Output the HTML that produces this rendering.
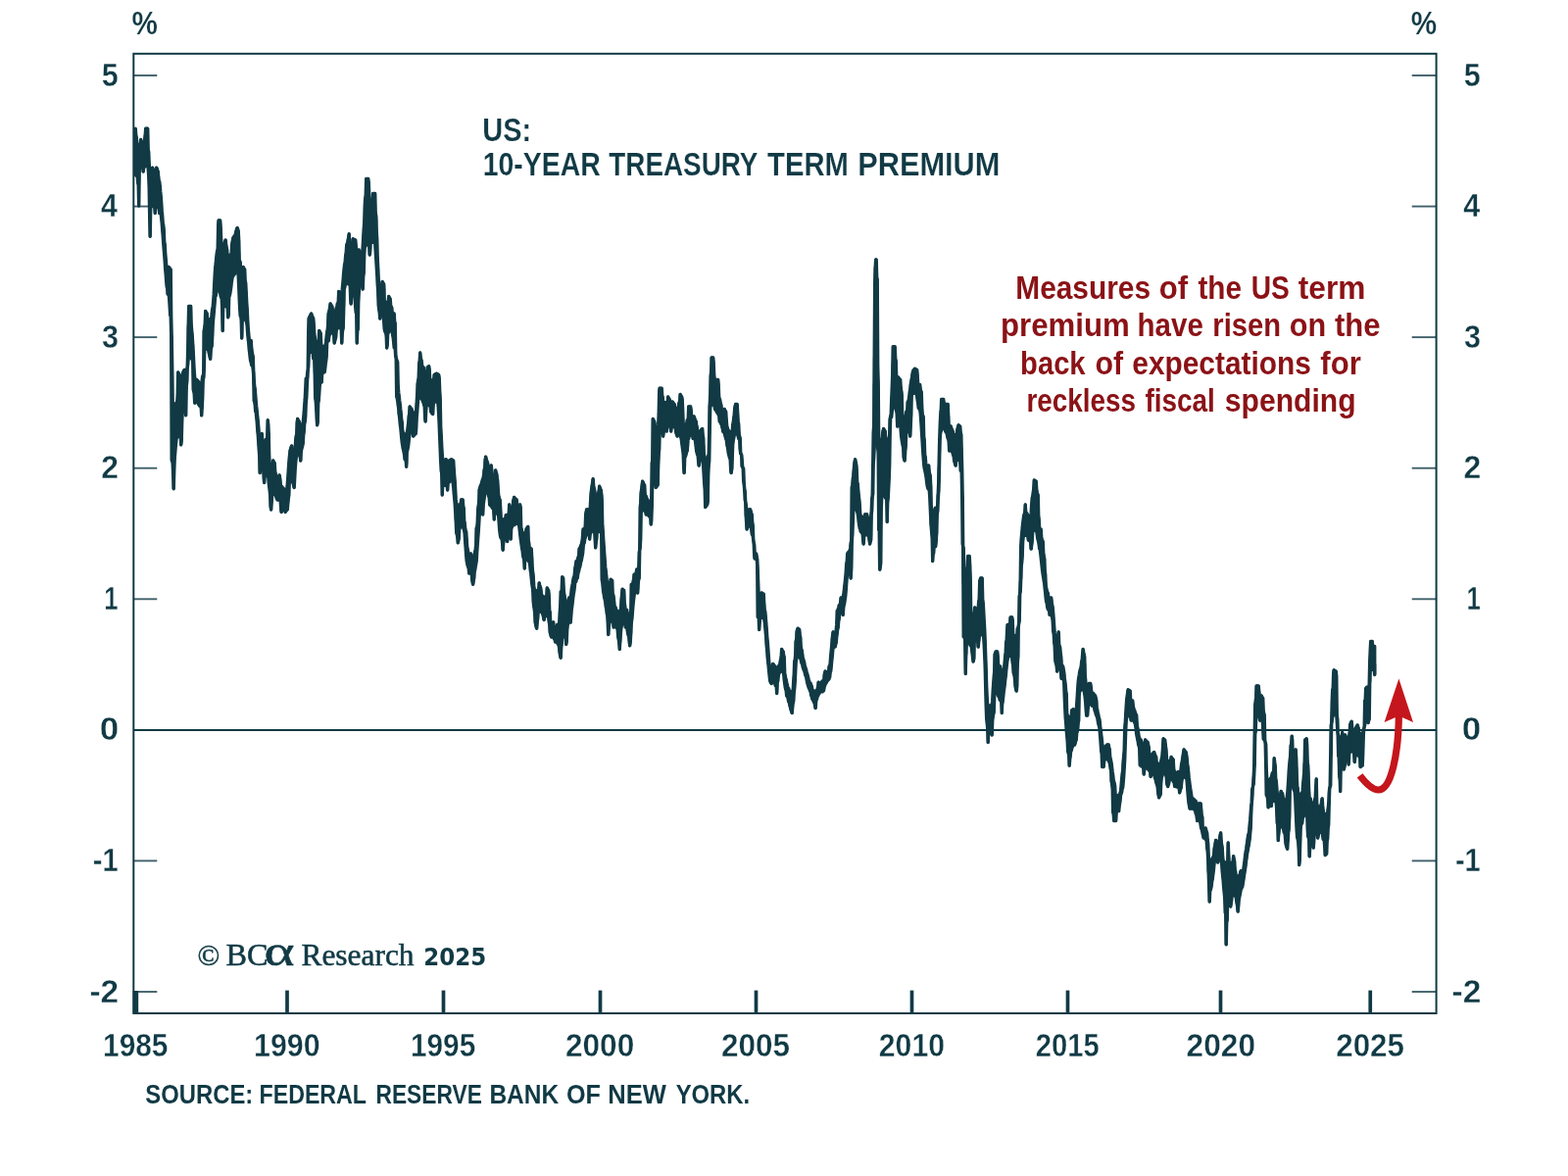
<!DOCTYPE html>
<html lang="en"><head><meta charset="utf-8"><title>US: 10-Year Treasury Term Premium</title>
<style>
html,body{margin:0;padding:0;background:#fff;}
body{width:1600px;height:1200px;overflow:hidden;}
svg{display:block;}
text{font-family:"Liberation Sans","DejaVu Sans",sans-serif;fill:#113a45;font-weight:bold;}
.ax{font-size:33.2px;stroke:#fff;stroke-width:0.35px;}
.pc{font-size:33px;stroke:#fff;stroke-width:0.2px;}
.ti{font-size:32.7px;stroke:#fff;stroke-width:0.15px;}
.an{font-size:32.3px;fill:#8b1216;}
.src{font-size:28.4px;}
.cp{font-family:"Liberation Serif","DejaVu Serif",serif;font-size:32px;font-weight:normal;stroke:#113a45;stroke-width:0.55px;}
.cpc{font-size:30px;}
.cpa{font-size:45px;}
.cpy{font-family:"DejaVu Sans","Liberation Sans",sans-serif;font-weight:bold;font-size:24.2px;stroke:none;}
</style></head>
<body>
<svg width="1600" height="1200" viewBox="0 0 1600 1200">
<rect width="1600" height="1200" fill="#ffffff"/>
<g class="frame">
<rect x="136.3" y="54.8" width="1329.3" height="979.2" fill="none" stroke="#113a45" stroke-width="2"/>
<line x1="136.3" x2="1465.6" y1="744.9" y2="744.9" stroke="#113a45" stroke-width="2"/>
<line x1="136.3" x2="160.3" y1="1012.0" y2="1012.0" stroke="#113a45" stroke-width="1.9" opacity="0.8"/>
<line x1="1440.7" x2="1465.6" y1="1012.0" y2="1012.0" stroke="#113a45" stroke-width="1.9" opacity="0.8"/>
<line x1="136.3" x2="160.3" y1="878.4" y2="878.4" stroke="#113a45" stroke-width="1.9" opacity="0.8"/>
<line x1="1440.7" x2="1465.6" y1="878.4" y2="878.4" stroke="#113a45" stroke-width="1.9" opacity="0.8"/>
<line x1="136.3" x2="160.3" y1="744.9" y2="744.9" stroke="#113a45" stroke-width="1.9" opacity="0.8"/>
<line x1="1440.7" x2="1465.6" y1="744.9" y2="744.9" stroke="#113a45" stroke-width="1.9" opacity="0.8"/>
<line x1="136.3" x2="160.3" y1="611.3" y2="611.3" stroke="#113a45" stroke-width="1.9" opacity="0.8"/>
<line x1="1440.7" x2="1465.6" y1="611.3" y2="611.3" stroke="#113a45" stroke-width="1.9" opacity="0.8"/>
<line x1="136.3" x2="160.3" y1="477.7" y2="477.7" stroke="#113a45" stroke-width="1.9" opacity="0.8"/>
<line x1="1440.7" x2="1465.6" y1="477.7" y2="477.7" stroke="#113a45" stroke-width="1.9" opacity="0.8"/>
<line x1="136.3" x2="160.3" y1="344.1" y2="344.1" stroke="#113a45" stroke-width="1.9" opacity="0.8"/>
<line x1="1440.7" x2="1465.6" y1="344.1" y2="344.1" stroke="#113a45" stroke-width="1.9" opacity="0.8"/>
<line x1="136.3" x2="160.3" y1="210.6" y2="210.6" stroke="#113a45" stroke-width="1.9" opacity="0.8"/>
<line x1="1440.7" x2="1465.6" y1="210.6" y2="210.6" stroke="#113a45" stroke-width="1.9" opacity="0.8"/>
<line x1="136.3" x2="160.3" y1="77.0" y2="77.0" stroke="#113a45" stroke-width="1.9" opacity="0.8"/>
<line x1="1440.7" x2="1465.6" y1="77.0" y2="77.0" stroke="#113a45" stroke-width="1.9" opacity="0.8"/>
<rect x="135.6" y="1011" width="5.6" height="23" fill="#113a45"/>
<line x1="293" x2="293" y1="1010.6" y2="1034" stroke="#113a45" stroke-width="3.7"/>
<line x1="452.5" x2="452.5" y1="1010.6" y2="1034" stroke="#113a45" stroke-width="3.7"/>
<line x1="612.5" x2="612.5" y1="1010.6" y2="1034" stroke="#113a45" stroke-width="3.7"/>
<line x1="771.5" x2="771.5" y1="1010.6" y2="1034" stroke="#113a45" stroke-width="3.7"/>
<line x1="930.5" x2="930.5" y1="1010.6" y2="1034" stroke="#113a45" stroke-width="3.7"/>
<line x1="1089.5" x2="1089.5" y1="1010.6" y2="1034" stroke="#113a45" stroke-width="3.7"/>
<line x1="1245.5" x2="1245.5" y1="1010.6" y2="1034" stroke="#113a45" stroke-width="3.7"/>
<line x1="1398.25" x2="1398.25" y1="1010.6" y2="1034" stroke="#113a45" stroke-width="3.7"/>
</g>
<g class="labels">
<text class="ax" y="1022.5"><tspan x="91.44" textLength="29.77" lengthAdjust="spacingAndGlyphs">-2</tspan></text>
<text class="ax" y="1022.5"><tspan x="1481.54" textLength="29.77" lengthAdjust="spacingAndGlyphs">-2</tspan></text>
<text class="ax" y="888.9"><tspan x="94.81" textLength="25.87" lengthAdjust="spacingAndGlyphs">-1</tspan></text>
<text class="ax" y="888.9"><tspan x="1484.91" textLength="25.87" lengthAdjust="spacingAndGlyphs">-1</tspan></text>
<text class="ax" y="755.4"><tspan x="101.79" textLength="19.47" lengthAdjust="spacingAndGlyphs">0</tspan></text>
<text class="ax" y="755.4"><tspan x="1491.89" textLength="19.47" lengthAdjust="spacingAndGlyphs">0</tspan></text>
<text class="ax" y="621.8"><tspan x="106.3" textLength="14.28" lengthAdjust="spacingAndGlyphs">1</tspan></text>
<text class="ax" y="621.8"><tspan x="1496.4" textLength="14.28" lengthAdjust="spacingAndGlyphs">1</tspan></text>
<text class="ax" y="488.2"><tspan x="103.36" textLength="17.77" lengthAdjust="spacingAndGlyphs">2</tspan></text>
<text class="ax" y="488.2"><tspan x="1493.46" textLength="17.77" lengthAdjust="spacingAndGlyphs">2</tspan></text>
<text class="ax" y="354.6"><tspan x="103.91" textLength="17.02" lengthAdjust="spacingAndGlyphs">3</tspan></text>
<text class="ax" y="354.6"><tspan x="1494.01" textLength="17.02" lengthAdjust="spacingAndGlyphs">3</tspan></text>
<text class="ax" y="221.1"><tspan x="103.04" textLength="16.97" lengthAdjust="spacingAndGlyphs">4</tspan></text>
<text class="ax" y="221.1"><tspan x="1493.14" textLength="16.97" lengthAdjust="spacingAndGlyphs">4</tspan></text>
<text class="ax" y="87.5"><tspan x="103.68" textLength="17.02" lengthAdjust="spacingAndGlyphs">5</tspan></text>
<text class="ax" y="87.5"><tspan x="1493.78" textLength="17.02" lengthAdjust="spacingAndGlyphs">5</tspan></text>
<text class="ax" y="1078.1"><tspan x="105.03" textLength="66.48" lengthAdjust="spacingAndGlyphs">1985</tspan></text>
<text class="ax" y="1078.1"><tspan x="259.1" textLength="67.5" lengthAdjust="spacingAndGlyphs">1990</tspan></text>
<text class="ax" y="1078.1"><tspan x="418.94" textLength="66.27" lengthAdjust="spacingAndGlyphs">1995</tspan></text>
<text class="ax" y="1078.1"><tspan x="576.97" textLength="70.28" lengthAdjust="spacingAndGlyphs">2000</tspan></text>
<text class="ax" y="1078.1"><tspan x="735.98" textLength="70.08" lengthAdjust="spacingAndGlyphs">2005</tspan></text>
<text class="ax" y="1078.1"><tspan x="896.82" textLength="67.18" lengthAdjust="spacingAndGlyphs">2010</tspan></text>
<text class="ax" y="1078.1"><tspan x="1056.85" textLength="64.94" lengthAdjust="spacingAndGlyphs">2015</tspan></text>
<text class="ax" y="1078.1"><tspan x="1210.57" textLength="70.49" lengthAdjust="spacingAndGlyphs">2020</tspan></text>
<text class="ax" y="1078.1"><tspan x="1363.18" textLength="69.87" lengthAdjust="spacingAndGlyphs">2025</tspan></text>
<text class="pc" y="35.0"><tspan x="134.53" textLength="26.39" lengthAdjust="spacingAndGlyphs">%</tspan></text>
<text class="pc" y="35.4"><tspan x="1439.63" textLength="26.39" lengthAdjust="spacingAndGlyphs">%</tspan></text>
</g>
<text class="ti" y="144.3"><tspan x="492.27" textLength="49.77" lengthAdjust="spacingAndGlyphs">US:</tspan></text>
<text class="ti" y="179.0"><tspan x="492.72" textLength="120.01" lengthAdjust="spacingAndGlyphs">10-YEAR</tspan> <tspan x="621.32" textLength="151.55" lengthAdjust="spacingAndGlyphs">TREASURY</tspan> <tspan x="783.11" textLength="82.81" lengthAdjust="spacingAndGlyphs">TERM</tspan> <tspan x="875.2" textLength="145.19" lengthAdjust="spacingAndGlyphs">PREMIUM</tspan></text>
<text class="an" y="305.0"><tspan x="1036.26" textLength="137.8" lengthAdjust="spacingAndGlyphs">Measures</tspan> <tspan x="1182.73" textLength="29.33" lengthAdjust="spacingAndGlyphs">of</tspan> <tspan x="1222.4" textLength="44.56" lengthAdjust="spacingAndGlyphs">the</tspan> <tspan x="1276.71" textLength="39.12" lengthAdjust="spacingAndGlyphs">US</tspan> <tspan x="1324.78" textLength="68.6" lengthAdjust="spacingAndGlyphs">term</tspan></text>
<text class="an" y="343.2"><tspan x="1021.07" textLength="131.72" lengthAdjust="spacingAndGlyphs">premium</tspan> <tspan x="1160.61" textLength="67.2" lengthAdjust="spacingAndGlyphs">have</tspan> <tspan x="1237.31" textLength="69.65" lengthAdjust="spacingAndGlyphs">risen</tspan> <tspan x="1315.75" textLength="37.44" lengthAdjust="spacingAndGlyphs">on</tspan> <tspan x="1361.99" textLength="46.62" lengthAdjust="spacingAndGlyphs">the</tspan></text>
<text class="an" y="381.5"><tspan x="1041.1" textLength="66.48" lengthAdjust="spacingAndGlyphs">back</tspan> <tspan x="1117.46" textLength="28.6" lengthAdjust="spacingAndGlyphs">of</tspan> <tspan x="1155.28" textLength="182.67" lengthAdjust="spacingAndGlyphs">expectations</tspan> <tspan x="1347.33" textLength="41.47" lengthAdjust="spacingAndGlyphs">for</tspan></text>
<text class="an" y="419.7"><tspan x="1047.39" textLength="111.5" lengthAdjust="spacingAndGlyphs">reckless</tspan> <tspan x="1168.38" textLength="71.36" lengthAdjust="spacingAndGlyphs">fiscal</tspan> <tspan x="1249.85" textLength="133.67" lengthAdjust="spacingAndGlyphs">spending</tspan></text>
<text class="cp" y="984.8"><tspan x="201.5" class="cpc">©</tspan> <tspan x="230.5" textLength="43" lengthAdjust="spacingAndGlyphs">BC</tspan><tspan x="269.5" class="cpa" textLength="31" lengthAdjust="spacingAndGlyphs">α</tspan> <tspan x="307.5" textLength="115" lengthAdjust="spacingAndGlyphs">Research</tspan> <tspan x="432.3" y="984.6" class="cpy" textLength="64" lengthAdjust="spacingAndGlyphs">2025</tspan></text>
<text class="src" y="1126.0"><tspan x="148.34" textLength="109.95" lengthAdjust="spacingAndGlyphs">SOURCE:</tspan> <tspan x="264.5" textLength="109.13" lengthAdjust="spacingAndGlyphs">FEDERAL</tspan> <tspan x="383.52" textLength="108.3" lengthAdjust="spacingAndGlyphs">RESERVE</tspan> <tspan x="499.41" textLength="70.74" lengthAdjust="spacingAndGlyphs">BANK</tspan> <tspan x="577.99" textLength="34.92" lengthAdjust="spacingAndGlyphs">OF</tspan> <tspan x="620.34" textLength="59.61" lengthAdjust="spacingAndGlyphs">NEW</tspan> <tspan x="689.64" textLength="75.56" lengthAdjust="spacingAndGlyphs">YORK.</tspan></text>
<polygon class="series-band" points="138.2,131.2 138.7,137.9 139.2,140.1 139.7,146.3 140.2,148.6 140.7,148.9 141.2,149.3 141.7,149.3 142.2,147.4 142.7,147.4 143.2,147.4 143.7,142.5 144.2,147.4 144.7,147.4 145.2,147.4 145.7,147.4 146.2,147.4 146.7,147.4 147.2,144.3 147.7,142.2 148.2,138.6 148.7,131.2 149.2,131.2 149.7,131.2 150.2,131.2 150.7,131.2 151.2,153.2 151.7,155 152.2,167 152.7,175.8 153.2,175.8 153.7,175.8 154.2,175.8 154.7,175.8 155.2,173 155.7,171.2 156.2,173 156.7,174.2 157.2,175 157.7,175 158.2,175 158.7,175 159.2,175 159.7,171.2 160.2,172.2 160.7,174 161.2,175 161.7,180.8 162.2,185.2 162.7,185.2 163.2,189.2 163.7,195.7 164.2,200.3 164.7,207.3 165.2,215.2 165.7,220.4 166.2,227.9 166.7,230 167.2,234.9 167.7,246.8 168.2,249.6 168.7,258.6 169.2,264.4 169.7,270 170.2,272.5 170.7,272.5 171.2,272.5 171.7,272.5 172.2,272.5 172.7,273.1 173.2,273.8 173.7,274.6 174.2,275 174.7,323.3 175.2,344.5 175.7,375 176.2,414.3 176.7,416.1 177.2,418.2 177.7,415.7 178.2,413.6 178.7,412.7 179.2,411.8 179.7,411.5 180.2,411.5 180.7,410 181.2,404 181.7,380 182.2,380.8 182.7,381.9 183.2,382.5 183.7,391.1 184.2,391.1 184.7,391.1 185.2,390.4 185.7,387.6 186.2,386.6 186.7,380 187.2,379.3 187.7,378.2 188.2,377.5 188.7,377.5 189.2,377.5 189.7,377.5 190.2,377.5 190.7,377.2 191.2,374.8 191.7,357.6 192.2,332.9 192.7,312.5 193.2,312.5 193.7,312.5 194.2,312.5 194.7,312.5 195.2,332 195.7,337.5 196.2,342.7 196.7,351.2 197.2,358.9 197.7,369.2 198.2,379.3 198.7,384.9 199.2,387.5 199.7,387.5 200.2,387.5 200.7,387.5 201.2,388 201.7,388.6 202.2,389.2 202.7,389.9 203.2,391.8 203.7,391.9 204.2,391.9 204.7,391.9 205.2,392 205.7,393.4 206.2,388 206.7,383.9 207.2,383.9 207.7,381.3 208.2,337.8 208.7,334.8 209.2,331.1 209.7,317.5 210.2,318.4 210.7,319.2 211.2,320 211.7,326 212.2,326 212.7,326 213.2,326 213.7,326 214.2,326.4 214.7,326.7 215.2,325.2 215.7,324.9 216.2,319.7 216.7,314.9 217.2,313.3 217.7,307.3 218.2,300.2 218.7,289.8 219.2,280.5 219.7,272.8 220.2,269.1 220.7,263.5 221.2,258.8 221.7,255.7 222.2,254.3 222.7,229.1 223.2,225 223.7,225 224.2,225 224.7,225 225.2,233.4 225.7,245 226.2,253.8 226.7,255.4 227.2,257 227.7,256.8 228.2,256.8 228.7,250 229.2,248.1 229.7,246.2 230.2,245 230.7,250.6 231.2,253.3 231.7,255 232.2,263.9 232.7,263.9 233.2,263.5 233.7,260.8 234.2,260.6 234.7,260.3 235.2,259.9 235.7,259.4 236.2,258.6 236.7,249.7 237.2,246.5 237.7,244 238.2,242.2 238.7,241.6 239.2,241 239.7,240.4 240.2,239.2 240.7,237.3 241.2,234.9 241.7,233.5 242.2,232.5 242.7,234.4 243.2,235.8 243.7,245.4 244.2,265.3 244.7,266.5 245.2,267.8 245.7,280 246.2,280.5 246.7,281.8 247.2,281.6 247.7,281.6 248.2,272.5 248.7,273.6 249.2,274.5 249.7,275 250.2,287.4 250.7,288.7 251.2,297.9 251.7,308.5 252.2,315.9 252.7,326 253.2,334.6 253.7,340.3 254.2,345.8 254.7,347.5 255.2,347.5 255.7,347.5 256.2,347.5 256.7,355.5 257.2,359.6 257.7,361.6 258.2,364.1 258.7,379 259.2,387.5 259.7,394.3 260.2,397.1 260.7,403.3 261.2,409.5 261.7,415 262.2,419.4 262.7,424.7 263.2,429 263.7,435.1 264.2,441.5 264.7,445.8 265.2,447.7 265.7,447.7 266.2,447.7 266.7,447.7 267.2,442.5 267.7,448.9 268.2,451.8 268.7,451.8 269.2,452.7 269.7,452.9 270.2,452.9 270.7,451.5 271.2,448.4 271.7,448.4 272.2,448.4 272.7,446.4 273.2,428.8 273.7,432.9 274.2,443.1 274.7,466.3 275.2,474.6 275.7,475.3 276.2,477.1 276.7,477.5 277.2,476.3 277.7,475.9 278.2,475.9 278.7,470 279.2,471 279.7,471.9 280.2,472.5 280.7,481.2 281.2,483.6 281.7,484.9 282.2,488.6 282.7,488.6 283.2,488.8 283.7,488.8 284.2,488.8 284.7,488.8 285.2,485 285.7,488.5 286.2,493.6 286.7,496.5 287.2,496.5 287.7,496.5 288.2,497.9 288.7,498.1 289.2,498.2 289.7,499.4 290.2,499.9 290.7,499.9 291.2,499.9 291.7,499.9 292.2,499.9 292.7,499.8 293.2,495.3 293.7,488.4 294.2,481.3 294.7,473.5 295.2,467.7 295.7,463.2 296.2,459.3 296.7,457.7 297.2,456 297.7,455 298.2,461.4 298.7,461.4 299.2,461.4 299.7,461.4 300.2,461.4 300.7,459.9 301.2,458.5 301.7,449.2 302.2,445.3 302.7,443.4 303.2,431 303.7,427.5 304.2,428.7 304.7,429.5 305.2,430 305.7,434.9 306.2,434.9 306.7,434.9 307.2,433.6 307.7,433.1 308.2,432.8 308.7,432.6 309.2,432.1 309.7,426.2 310.2,421 310.7,413.6 311.2,407.5 311.7,397.9 312.2,386.2 312.7,386.2 313.2,386.2 313.7,380.5 314.2,377.3 314.7,339.3 315.2,324.8 315.7,323.8 316.2,322.7 316.7,321.7 317.2,320.6 317.7,320 318.2,321.8 318.7,323 319.2,324.2 319.7,325 320.2,331.4 320.7,340.3 321.2,343.8 321.7,347.8 322.2,348.2 322.7,349.3 323.2,351 323.7,351.9 324.2,351.5 324.7,348.5 325.2,348.2 325.7,337.5 326.2,338.3 326.7,339.4 327.2,340 327.7,351.7 328.2,354.9 328.7,353.5 329.2,353.5 329.7,353.5 330.2,353.3 330.7,353.3 331.2,353.3 331.7,352.8 332.2,352.1 332.7,348.7 333.2,343.1 333.7,339.1 334.2,337 334.7,331.4 335.2,319.9 335.7,318.2 336.2,315.9 336.7,313 337.2,310 337.7,311 338.2,311.7 338.7,312.4 339.2,315.1 339.7,317.1 340.2,317.1 340.7,317.1 341.2,318 341.7,317.7 342.2,317.3 342.7,316.6 343.2,314.1 343.7,313.9 344.2,310.3 344.7,309.6 345.2,308.3 345.7,297.5 346.2,298.7 346.7,299.5 347.2,299.5 347.7,299.5 348.2,299.5 348.7,299.5 349.2,295.5 349.7,290.3 350.2,284.8 350.7,278.2 351.2,273.4 351.7,269.3 352.2,267.2 352.7,260.6 353.2,258.4 353.7,250 354.2,248.9 354.7,247.2 355.2,244.9 355.7,241.8 356.2,238.8 356.7,250.8 357.2,250.8 357.7,252.9 358.2,253.4 358.7,253.4 359.2,253.4 359.7,249.4 360.2,243.8 360.7,244.1 361.2,244.4 361.7,244.6 362.2,244.9 362.7,245 363.2,251.1 363.7,260.2 364.2,260.2 364.7,260.2 365.2,260.2 365.7,260.2 366.2,255 366.7,256.8 367.2,258 367.7,259.2 368.2,259.2 368.7,259.2 369.2,259.2 369.7,259.2 370.2,251.8 370.7,242 371.2,234.3 371.7,227.5 372.2,211.1 372.7,202.2 373.2,200.2 373.7,182.5 374.2,182.5 374.7,182.5 375.2,182.5 375.7,182.5 376.2,186.5 376.7,197.4 377.2,206.9 377.7,206.4 378.2,206.3 378.7,206.3 379.2,206.3 379.7,206.3 380.2,206.3 380.7,197.5 381.2,197.5 381.7,197.5 382.2,197.5 382.7,197.5 383.2,217.9 383.7,220.2 384.2,236.6 384.7,243.5 385.2,263.2 385.7,273.5 386.2,284.2 386.7,291.5 387.2,291.8 387.7,293.1 388.2,293.1 388.7,293.1 389.2,293.1 389.7,293.1 390.2,287.5 390.7,288.6 391.2,289.5 391.7,290 392.2,307.5 392.7,307.8 393.2,308 393.7,308.1 394.2,308.5 394.7,310.4 395.2,309.9 395.7,308.4 396.2,308.4 396.7,302.5 397.2,303.6 397.7,304.5 398.2,305 398.7,312.2 399.2,313 399.7,313.8 400.2,320 400.7,320 401.2,320 401.7,320 402.2,320 402.7,328.5 403.2,330.1 403.7,360.1 404.2,365.3 404.7,366.9 405.2,368.5 405.7,369.5 406.2,394 406.7,400.4 407.2,403.9 407.7,408.7 408.2,412.2 408.7,417.5 409.2,421.6 409.7,428.5 410.2,431 410.7,439.1 411.2,440.8 411.7,442.1 412.2,442.5 412.7,442.9 413.2,443.6 413.7,443.6 414.2,443.7 414.7,444.7 415.2,442.4 415.7,439.4 416.2,435.7 416.7,431.6 417.2,424.5 417.7,422.8 418.2,415 418.7,415.9 419.2,416.5 419.7,417.1 420.2,417.5 420.7,419.8 421.2,421.3 421.7,421.3 422.2,421.2 422.7,421.1 423.2,421.1 423.7,421 424.2,420.9 424.7,420.1 425.2,411 425.7,402.4 426.2,391.6 426.7,388.2 427.2,385.2 427.7,371 428.2,368.5 428.7,360 429.2,364.8 429.7,366.7 430.2,368.3 430.7,373.3 431.2,373.9 431.7,374.6 432.2,375 432.7,380.4 433.2,380.4 433.7,382.4 434.2,382.9 434.7,381.4 435.2,381.4 435.7,381.4 436.2,375 436.7,374.5 437.2,374.1 437.7,373.8 438.2,377.8 438.7,387.9 439.2,387.9 439.7,387.9 440.2,388 440.7,388.1 441.2,388.2 441.7,388.3 442.2,387.1 442.7,387.1 443.2,382.5 443.7,382.2 444.2,381.9 444.7,381.7 445.2,381.4 445.7,381.2 446.2,381.7 446.7,382 447.2,382.3 447.7,382.5 448.2,385.9 448.7,398.8 449.2,407.4 449.7,435.6 450.2,443.4 450.7,454.6 451.2,463.1 451.7,469.6 452.2,469.6 452.7,469.6 453.2,469.6 453.7,469.6 454.2,469.3 454.7,469 455.2,468.8 455.7,473.5 456.2,473.5 456.7,473.5 457.2,472.3 457.7,472.3 458.2,470 458.7,469.8 459.2,469.5 459.7,469.3 460.2,469 460.7,468.8 461.2,469.2 461.7,469.5 462.2,469.8 462.7,470 463.2,479 463.7,485.8 464.2,490.9 464.7,500.8 465.2,509.9 465.7,515 466.2,515.3 466.7,515.6 467.2,516.6 467.7,516.3 468.2,515.9 468.7,514.7 469.2,514.7 469.7,514.7 470.2,514.1 470.7,510 471.2,510 471.7,510 472.2,510 472.7,516.6 473.2,518.8 473.7,530.9 474.2,534.1 474.7,539.3 475.2,542 475.7,542.5 476.2,551.2 476.7,558.5 477.2,560.4 477.7,563.6 478.2,566.6 478.7,566.6 479.2,566.6 479.7,566.6 480.2,566.6 480.7,565 481.2,568 481.7,568.9 482.2,569.4 482.7,569.7 483.2,569.1 483.7,568.8 484.2,567.7 484.7,563 485.2,560.5 485.7,556.5 486.2,539 486.7,538 487.2,533.8 487.7,520.6 488.2,516.3 488.7,512.8 489.2,499.6 489.7,497.9 490.2,496.1 490.7,495 491.2,494.3 491.7,491.7 492.2,490.1 492.7,488.7 493.2,487.2 493.7,484.4 494.2,479.3 494.7,477.7 495.2,468.8 495.7,466.2 496.2,468.4 496.7,470 497.2,471.6 497.7,472.5 498.2,479.9 498.7,479.9 499.2,479.9 499.7,481 500.2,481.1 500.7,481.1 501.2,475 501.7,479.2 502.2,485.8 502.7,485.8 503.2,485.8 503.7,485.9 504.2,487.5 504.7,487.5 505.2,486.8 505.7,480 506.2,482 506.7,483.4 507.2,487.5 507.7,490 508.2,498.8 508.7,505.4 509.2,507.5 509.7,509 510.2,510.3 510.7,519 511.2,528.1 511.7,529.3 512.2,529.5 512.7,530.1 513.2,531.1 513.7,530 514.2,529.8 514.7,529.8 515.2,529.8 515.7,529.5 516.2,525.8 516.7,525.8 517.2,525.8 517.7,525.8 518.2,524.9 518.7,524.9 519.2,524.9 519.7,515 520.2,519.2 520.7,519.2 521.2,519.2 521.7,518.7 522.2,518.5 522.7,518.1 523.2,518.1 523.7,511.3 524.2,509.4 524.7,507.5 525.2,508.2 525.7,508.7 526.2,509.2 526.7,509.7 527.2,510 527.7,518.1 528.2,518.1 528.7,518.1 529.2,518.1 529.7,518.2 530.2,518.8 530.7,515 531.2,518.3 531.7,538.5 532.2,540 532.7,542.8 533.2,543.1 533.7,543.9 534.2,544.1 534.7,544.3 535.2,545.8 535.7,545.2 536.2,545.2 536.7,542.8 537.2,539.7 537.7,539 538.2,538.3 538.7,537.5 539.2,551.6 539.7,553.8 540.2,558.3 540.7,560 541.2,560 541.7,560 542.2,560 542.7,569 543.2,580 543.7,584.1 544.2,588.6 544.7,597.4 545.2,600.9 545.7,601.6 546.2,603 546.7,603.4 547.2,603.7 547.7,603.9 548.2,603 548.7,602.4 549.2,601.9 549.7,601.9 550.2,595 550.7,597.1 551.2,598.9 551.7,600 552.2,604.2 552.7,606.8 553.2,608.2 553.7,608.2 554.2,608.9 554.7,609 555.2,609 555.7,609.3 556.2,609.3 556.7,609.3 557.2,609.3 557.7,609.3 558.2,600 558.7,600.8 559.2,601.9 559.7,602.5 560.2,608.4 560.7,623.1 561.2,624.6 561.7,635.7 562.2,637.1 562.7,637.2 563.2,637.2 563.7,637.2 564.2,637.2 564.7,635 565.2,639.5 565.7,639.7 566.2,639.8 566.7,640.1 567.2,640.1 567.7,640.1 568.2,640 568.7,637.5 569.2,637.5 569.7,637.5 570.2,637.5 570.7,635.3 571.2,625.9 571.7,618.6 572.2,603.6 572.7,603.6 573.2,602.2 573.7,588.8 574.2,589.4 574.7,590 575.2,602.2 575.7,606 576.2,609.1 576.7,616.9 577.2,616.9 577.7,616.9 578.2,616.6 578.7,614.9 579.2,614.2 579.7,613.6 580.2,611.4 580.7,610 581.2,610 581.7,610 582.2,609.6 582.7,606.6 583.2,601.3 583.7,598.5 584.2,595.8 584.7,592.7 585.2,589.8 585.7,588.9 586.2,586.8 586.7,580.8 587.2,578.1 587.7,574.8 588.2,572.5 588.7,572.5 589.2,572.5 589.7,569.8 590.2,568.2 590.7,566.2 591.2,560 591.7,559.5 592.2,558.2 592.7,557 593.2,555.7 593.7,554 594.2,551.4 594.7,544.8 595.2,540 595.7,540 596.2,540 596.7,540 597.2,537.8 597.7,524.9 598.2,522.1 598.7,520 599.2,520 599.7,520 600.2,520 600.7,520 601.2,520 601.7,519.8 602.2,518.5 602.7,510.3 603.2,502.9 603.7,498.5 604.2,495.6 604.7,491.8 605.2,488.8 605.7,496.1 606.2,498.5 606.7,500 607.2,504.5 607.7,507.6 608.2,506.6 608.7,506.3 609.2,506.3 609.7,506.3 610.2,504.3 610.7,502.7 611.2,500.6 611.7,496.2 612.2,498 612.7,499.2 613.2,500 613.7,504.2 614.2,510.2 614.7,534.4 615.2,541.3 615.7,550.5 616.2,557.2 616.7,565.1 617.2,571.5 617.7,578.9 618.2,582 618.7,587.8 619.2,591.8 619.7,594.6 620.2,597.6 620.7,598.1 621.2,598.1 621.7,598.1 622.2,598.1 622.7,598.1 623.2,591.2 623.7,591.8 624.2,592.2 624.7,592.5 625.2,606.8 625.7,606.8 626.2,609.2 626.7,614.3 627.2,618.8 627.7,620 628.2,620 628.7,623 629.2,623.1 629.7,623.1 630.2,623.4 630.7,624.4 631.2,624.8 631.7,625.3 632.2,626.4 632.7,625.3 633.2,623 633.7,618.6 634.2,611.1 634.7,605.8 635.2,601.2 635.7,601.8 636.2,602.2 636.7,602.5 637.2,614.7 637.7,618.3 638.2,621.8 638.7,622.5 639.2,622.5 639.7,622.5 640.2,625.6 640.7,626.1 641.2,626.4 641.7,626.5 642.2,627.3 642.7,627.9 643.2,627.4 643.7,626.1 644.2,596.3 644.7,596.3 645.2,596 645.7,595.1 646.2,593.2 646.7,590.3 647.2,586.2 647.7,586.2 648.2,586.2 648.7,586.2 649.2,584.3 649.7,580.9 650.2,580.9 650.7,580.9 651.2,580.9 651.7,580.3 652.2,563.7 652.7,561.7 653.2,517.8 653.7,513.4 654.2,502.5 654.7,498.9 655.2,494.8 655.7,491.2 656.2,492.5 656.7,493.5 657.2,494.4 657.7,495 658.2,504.7 658.7,505.9 659.2,506.2 659.7,508.7 660.2,508.7 660.7,511 661.2,511.1 661.7,511.3 662.2,511.4 662.7,511.5 663.2,511.5 663.7,510.8 664.2,510.8 664.7,510.8 665.2,472.5 665.7,470.5 666.2,427.5 666.7,428.3 667.2,429.4 667.7,430 668.2,433.5 668.7,438.7 669.2,438.7 669.7,438.6 670.2,438.5 670.7,438.4 671.2,438.3 671.7,433.9 672.2,422.7 672.7,399.7 673.2,396.2 673.7,396.2 674.2,396.2 674.7,396.2 675.2,396.2 675.7,403.8 676.2,405.4 676.7,411.3 677.2,410.7 677.7,410.6 678.2,410.6 678.7,410.6 679.2,410.6 679.7,410.6 680.2,410.6 680.7,410.6 681.2,410.6 681.7,405 682.2,406.2 682.7,407 683.2,407.5 683.7,411.5 684.2,411.5 684.7,411.5 685.2,411.5 685.7,411.5 686.2,410 686.7,410.8 687.2,411.4 687.7,412.1 688.2,412.5 688.7,416.2 689.2,416.2 689.7,416.3 690.2,416.5 690.7,416.8 691.2,416.9 691.7,416.9 692.2,416.9 692.7,411.9 693.2,410.6 693.7,408.9 694.2,402.5 694.7,403.7 695.2,404.5 695.7,405 696.2,408 696.7,418.6 697.2,433.1 697.7,435.2 698.2,436 698.7,433.7 699.2,433.5 699.7,433.4 700.2,433 700.7,432 701.2,428.8 701.7,428.8 702.2,427.8 702.7,415 703.2,415 703.7,415 704.2,415 704.7,415 705.2,418.9 705.7,427.3 706.2,427.3 706.7,427.3 707.2,427.3 707.7,427.3 708.2,425 708.7,426.8 709.2,428 709.7,429.3 710.2,430 710.7,433.8 711.2,435.9 711.7,441.5 712.2,441.6 712.7,442.6 713.2,443.1 713.7,443.1 714.2,443.1 714.7,439.7 715.2,439.1 715.7,438.5 716.2,437.9 716.7,437.5 717.2,445 717.7,446.9 718.2,461.6 718.7,466.4 719.2,467.2 719.7,470 720.2,469.9 720.7,469.8 721.2,469.7 721.7,469.6 722.2,465.6 722.7,465.1 723.2,463.5 723.7,443.6 724.2,414.1 724.7,403.8 725.2,384 725.7,378.7 726.2,365 726.7,365 727.2,365 727.7,365 728.2,371.3 728.7,382.6 729.2,387.5 729.7,387.5 730.2,387.5 730.7,387.5 731.2,387.5 731.7,387.5 732.2,387.5 732.7,387.5 733.2,394 733.7,405 734.2,406.9 734.7,408 735.2,411.2 735.7,412.5 736.2,416.5 736.7,419.2 737.2,419.2 737.7,419.2 738.2,419.2 738.7,419.2 739.2,417.5 739.7,418.5 740.2,419.4 740.7,420 741.2,428.4 741.7,434.7 742.2,436.2 742.7,438.3 743.2,440 743.7,440 744.2,440 744.7,440.9 745.2,441.1 745.7,442.7 746.2,443.1 746.7,442.6 747.2,440.8 747.7,433.7 748.2,431.3 748.7,427.4 749.2,423.9 749.7,417.1 750.2,414.2 750.7,412.5 751.2,412.5 751.7,412.5 752.2,412.5 752.7,422.2 753.2,430.5 753.7,432.6 754.2,443.3 754.7,445.5 755.2,447 755.7,462 756.2,463.4 756.7,464.3 757.2,470 757.7,476.7 758.2,477.6 758.7,478.3 759.2,493.3 759.7,498.5 760.2,502.1 760.7,512 761.2,514.7 761.7,520.1 762.2,520.1 762.7,520.1 763.2,520.1 763.7,520.1 764.2,520 764.7,520 765.2,520 765.7,520 766.2,522.3 766.7,524 767.2,525 767.7,533.3 768.2,536.5 768.7,550 769.2,554.2 769.7,556 770.2,565 770.7,565 771.2,565 771.7,565 772.2,568.6 772.7,570.6 773.2,581.6 773.7,596.1 774.2,608.8 774.7,610.6 775.2,609.5 775.7,609.5 776.2,609.5 776.7,609.5 777.2,605 777.7,605.3 778.2,605.6 778.7,606 779.2,606.2 779.7,615.9 780.2,622.7 780.7,623.8 781.2,628.2 781.7,635.5 782.2,640.9 782.7,649.3 783.2,654.2 783.7,661 784.2,667.6 784.7,675.1 785.2,679.4 785.7,680.1 786.2,680.2 786.7,680.3 787.2,680.3 787.7,680.3 788.2,680.3 788.7,677.5 789.2,678 789.7,678.8 790.2,679.5 790.7,680 791.2,682.1 791.7,682.1 792.2,682.1 792.7,683.3 793.2,681.7 793.7,681.5 794.2,680 794.7,680 795.2,679.1 795.7,678.2 796.2,674.8 796.7,673.1 797.2,669 797.7,662.5 798.2,663.7 798.7,664.5 799.2,665 799.7,668.9 800.2,670.6 800.7,686.7 801.2,689.4 801.7,691.9 802.2,693.6 802.7,696.4 803.2,698.2 803.7,700.7 804.2,702.5 804.7,702.5 805.2,704.6 805.7,704.9 806.2,705.2 806.7,705.5 807.2,705.8 807.7,706.1 808.2,706.2 808.7,705.3 809.2,704.7 809.7,695.9 810.2,689.2 810.7,674.7 811.2,673.6 811.7,668.1 812.2,654.2 812.7,652.3 813.2,643.9 813.7,642.2 814.2,641.2 814.7,641.8 815.2,642.2 815.7,642.5 816.2,648 816.7,650.4 817.2,660 817.7,662.2 818.2,663.8 818.7,667.2 819.2,671.2 819.7,672.9 820.2,674.2 820.7,675.9 821.2,679.2 821.7,680.9 822.2,682.2 822.7,684 823.2,686.2 823.7,687.6 824.2,689.5 824.7,691.6 825.2,693.7 825.7,695.2 826.2,696.3 826.7,697.3 827.2,697.3 827.7,699.3 828.2,700 828.7,703 829.2,704.1 829.7,704.7 830.2,705 830.7,705.1 831.2,705.2 831.7,705.7 832.2,706 832.7,704.9 833.2,704.7 833.7,704.3 834.2,702.7 834.7,700.8 835.2,696.2 835.7,697.4 836.2,697.4 836.7,697.4 837.2,697.4 837.7,697.4 838.2,697 838.7,695.7 839.2,695 839.7,695 840.2,695 840.7,695 841.2,688.7 841.7,686.4 842.2,685 842.7,685.9 843.2,685.9 843.7,685.9 844.2,685.9 844.7,685.9 845.2,685 845.7,684.2 846.2,680 846.7,680 847.2,676.1 847.7,668.9 848.2,664.2 848.7,658.7 849.2,651.6 849.7,647.8 850.2,645 850.7,647.2 851.2,647.2 851.7,647.2 852.2,647.2 852.7,646.9 853.2,642.8 853.7,637.9 854.2,623.2 854.7,623.2 855.2,621.6 855.7,619.9 856.2,617.7 856.7,617.7 857.2,616.3 857.7,614.6 858.2,610 858.7,610 859.2,610 859.7,610 860.2,609.9 860.7,606.7 861.2,604.1 861.7,599 862.2,594.8 862.7,589.7 863.2,584.3 863.7,575.7 864.2,573.5 864.7,565 865.2,564.3 865.7,563.6 866.2,562.9 866.7,562.5 867.2,562.5 867.7,558.5 868.2,553.5 868.7,553.5 869.2,497.8 869.7,495 870.2,489.6 870.7,485.9 871.2,480.5 871.7,474.6 872.2,471 872.7,468.8 873.2,471.9 873.7,474.1 874.2,480 874.7,492.4 875.2,493.4 875.7,500 876.2,505.8 876.7,509.6 877.2,515 877.7,523.8 878.2,525.9 878.7,526.4 879.2,526.9 879.7,527.9 880.2,527.9 880.7,528.6 881.2,528.6 881.7,528.5 882.2,527.9 882.7,525 883.2,525 883.7,525 884.2,525 884.7,525 885.2,528.5 885.7,528.5 886.2,528.5 886.7,528.5 887.2,529 887.7,529.5 888.2,528.6 888.7,528 889.2,523.2 889.7,509.3 890.2,506.2 890.7,476.1 891.2,441.5 891.7,433.9 892.2,365 892.7,289.6 893.2,273 893.7,265 894.2,265 894.7,283.5 895.2,284.9 895.7,373.1 896.2,391.6 896.7,453 897.2,453 897.7,459.1 898.2,458.7 898.7,458.1 899.2,450.1 899.7,448.2 900.2,448.2 900.7,441.7 901.2,439.1 901.7,437.5 902.2,438.7 902.7,439.5 903.2,440 903.7,448.5 904.2,449.9 904.7,449.9 905.2,453.4 905.7,450.4 906.2,449.9 906.7,448.4 907.2,446.9 907.7,443.8 908.2,427.4 908.7,424.9 909.2,423.1 909.7,408.4 910.2,396.4 910.7,383.2 911.2,353.8 911.7,353.8 912.2,353.8 912.7,353.8 913.2,353.8 913.7,366.2 914.2,368.7 914.7,385 915.2,385 915.7,385 916.2,385 916.7,385 917.2,385.9 917.7,386.5 918.2,387.1 918.7,387.5 919.2,395.6 919.7,398.9 920.2,403.5 920.7,424.1 921.2,424.6 921.7,424.9 922.2,426.4 922.7,426.7 923.2,426.9 923.7,425.5 924.2,424.6 924.7,420.4 925.2,419.4 925.7,419.3 926.2,410 926.7,410 927.2,408.4 927.7,405.1 928.2,400.4 928.7,397.6 929.2,392.5 929.7,390 930.2,387.2 930.7,384.3 931.2,380.9 931.7,378.5 932.2,377.9 932.7,377.2 933.2,376.6 933.7,376.2 934.2,376.7 934.7,377 935.2,377.3 935.7,377.5 936.2,383.3 936.7,392.5 937.2,392.5 937.7,392.5 938.2,392.5 938.7,392.5 939.2,397.3 939.7,399 940.2,400 940.7,414.7 941.2,422.4 941.7,424.2 942.2,425.3 942.7,446.1 943.2,448.8 943.7,464.4 944.2,466.2 944.7,472.5 945.2,476.3 945.7,476.3 946.2,476.3 946.7,476.3 947.2,476.3 947.7,475 948.2,481.6 948.7,483.7 949.2,485.4 949.7,495.5 950.2,516.7 950.7,521.6 951.2,523.1 951.7,523.9 952.2,523.9 952.7,523.9 953.2,523.9 953.7,521.3 954.2,518.5 954.7,518.5 955.2,518.5 955.7,518.5 956.2,518.5 956.7,515.3 957.2,504.7 957.7,493.5 958.2,469.7 958.7,449.2 959.2,434.3 959.7,423.9 960.2,419.2 960.7,407.5 961.2,407.5 961.7,407.5 962.2,407.5 962.7,407.5 963.2,411.5 963.7,412.5 964.2,412.5 964.7,412.5 965.2,412.5 965.7,412.5 966.2,412.5 966.7,412.5 967.2,412.5 967.7,424.8 968.2,435 968.7,435 969.2,435 969.7,435 970.2,435 970.7,436.8 971.2,438 971.7,439.3 972.2,440 972.7,443 973.2,443.1 973.7,443.8 974.2,444.1 974.7,444.4 975.2,444.5 975.7,444.5 976.2,444.5 976.7,439.2 977.2,437.1 977.7,435 978.2,433.8 978.7,434.4 979.2,434.8 979.7,435 980.2,441.5 980.7,443.3 981.2,460.2 981.7,478.7 982.2,507.8 982.7,557.2 983.2,559.4 983.7,579.9 984.2,579.9 984.7,580.1 985.2,585.5 985.7,582.7 986.2,581.2 986.7,581.2 987.2,581.2 987.7,567.5 988.2,567.5 988.7,567.5 989.2,567.5 989.7,576.5 990.2,593 990.7,625.9 991.2,625.9 991.7,626.5 992.2,627 992.7,627.8 993.2,628.2 993.7,627.9 994.2,626 994.7,620 995.2,620.6 995.7,621.3 996.2,621.3 996.7,621.3 997.2,621.3 997.7,621.3 998.2,620.2 998.7,613.9 999.2,611.2 999.7,593.5 1000.2,591.3 1000.7,590 1001.2,590 1001.7,590 1002.2,590 1002.7,611.6 1003.2,615.2 1003.7,623.7 1004.2,633.4 1004.7,641.9 1005.2,653.9 1005.7,670.1 1006.2,684.6 1006.7,700.7 1007.2,711.4 1007.7,719.3 1008.2,721.5 1008.7,720.4 1009.2,720.4 1009.7,720.4 1010.2,720 1010.7,720 1011.2,720 1011.7,720 1012.2,720 1012.7,715.2 1013.2,705.2 1013.7,697.3 1014.2,690.6 1014.7,685.3 1015.2,667.6 1015.7,666 1016.2,665 1016.7,665 1017.2,665 1017.7,665 1018.2,670.5 1018.7,680 1019.2,680 1019.7,680 1020.2,680 1020.7,680 1021.2,685.3 1021.7,685.3 1022.2,687.1 1022.7,685.7 1023.2,685.3 1023.7,684.6 1024.2,683.9 1024.7,680.7 1025.2,675.7 1025.7,669.3 1026.2,665.4 1026.7,655 1027.2,653.5 1027.7,642.3 1028.2,637.5 1028.7,637.5 1029.2,637.5 1029.7,637.5 1030.2,637.5 1030.7,634.7 1031.2,630 1031.7,630 1032.2,630 1032.7,630 1033.2,632.7 1033.7,646.8 1034.2,648.1 1034.7,648.3 1035.2,648.6 1035.7,649.4 1036.2,650.2 1036.7,650.6 1037.2,650.9 1037.7,650.2 1038.2,641.6 1038.7,641.3 1039.2,639.3 1039.7,636 1040.2,608.7 1040.7,605.9 1041.2,593.3 1041.7,557.5 1042.2,549.7 1042.7,544.3 1043.2,538.4 1043.7,533.9 1044.2,530 1044.7,526.2 1045.2,524.6 1045.7,523.5 1046.2,515 1046.7,522.1 1047.2,523 1047.7,523.6 1048.2,524.4 1048.7,526 1049.2,526.8 1049.7,526.8 1050.2,526.8 1050.7,526.8 1051.2,526.8 1051.7,526.8 1052.2,523.4 1052.7,514.1 1053.2,508.2 1053.7,506.4 1054.2,502.8 1054.7,499.6 1055.2,490 1055.7,490.2 1056.2,490.6 1056.7,491 1057.2,491.2 1057.7,499.2 1058.2,502.1 1058.7,504.1 1059.2,505 1059.7,526.6 1060.2,530.6 1060.7,540 1061.2,540 1061.7,540 1062.2,540 1062.7,548.7 1063.2,550.5 1063.7,551.8 1064.2,552.5 1064.7,564.3 1065.2,567.6 1065.7,570 1066.2,583.5 1066.7,586.1 1067.2,597.5 1067.7,600.8 1068.2,602.7 1068.7,604.1 1069.2,605 1069.7,608.7 1070.2,610.9 1070.7,610.9 1071.2,610.9 1071.7,610.9 1072.2,610.9 1072.7,610 1073.2,614.7 1073.7,618 1074.2,620 1074.7,626 1075.2,631.8 1075.7,639.7 1076.2,646 1076.7,649 1077.2,649.6 1077.7,649.8 1078.2,650.1 1078.7,651 1079.2,651 1079.7,649.3 1080.2,645 1080.7,657.7 1081.2,659.1 1081.7,660.7 1082.2,666.6 1082.7,670.2 1083.2,676.5 1083.7,679.5 1084.2,680 1084.7,680 1085.2,683.7 1085.7,685.8 1086.2,691.9 1086.7,695 1087.2,699.8 1087.7,705.5 1088.2,708.2 1088.7,728.7 1089.2,729.5 1089.7,731.1 1090.2,731.4 1090.7,731.7 1091.2,733.3 1091.7,732.3 1092.2,731.8 1092.7,731.1 1093.2,731 1093.7,724.8 1094.2,724.4 1094.7,724 1095.2,723.8 1095.7,727.1 1096.2,727.1 1096.7,727.1 1097.2,727.1 1097.7,727.1 1098.2,725.5 1098.7,718.7 1099.2,711.4 1099.7,703.2 1100.2,695.9 1100.7,691.8 1101.2,689 1101.7,685.5 1102.2,683.8 1102.7,681.8 1103.2,680.4 1103.7,675 1104.2,673.4 1104.7,666.7 1105.2,662.5 1105.7,665.7 1106.2,668.4 1106.7,670 1107.2,689.7 1107.7,693.9 1108.2,701.6 1108.7,702.4 1109.2,702.4 1109.7,702.4 1110.2,701.2 1110.7,700.9 1111.2,697.5 1111.7,697.5 1112.2,697.5 1112.7,697.5 1113.2,700.9 1113.7,705.5 1114.2,706.3 1114.7,707.5 1115.2,707.5 1115.7,707.5 1116.2,708.4 1116.7,709 1117.2,709.6 1117.7,710 1118.2,712.7 1118.7,714.7 1119.2,723.1 1119.7,724 1120.2,727.4 1120.7,729.1 1121.2,732.1 1121.7,733.3 1122.2,736.2 1122.7,741.4 1123.2,744.8 1123.7,749.7 1124.2,754 1124.7,758.3 1125.2,761.9 1125.7,762.2 1126.2,762.2 1126.7,762.2 1127.2,762.2 1127.7,762.2 1128.2,761.6 1128.7,761 1129.2,760.4 1129.7,760 1130.2,760 1130.7,760 1131.2,760 1131.7,763.1 1132.2,764.4 1132.7,772.1 1133.2,774.1 1133.7,776.5 1134.2,779.3 1134.7,783.9 1135.2,788 1135.7,791.2 1136.2,795.9 1136.7,798 1137.2,799.2 1137.7,802.5 1138.2,813.1 1138.7,813.1 1139.2,811.7 1139.7,811.6 1140.2,811.6 1140.7,811.6 1141.2,811.6 1141.7,811.6 1142.2,810.7 1142.7,810.4 1143.2,808.8 1143.7,806.4 1144.2,800.1 1144.7,794.4 1145.2,789.2 1145.7,786.6 1146.2,777.5 1146.7,771.4 1147.2,765.3 1147.7,745.4 1148.2,739 1148.7,729.6 1149.2,720.9 1149.7,713.7 1150.2,710.4 1150.7,706.3 1151.2,703.8 1151.7,704.2 1152.2,704.5 1152.7,704.8 1153.2,705 1153.7,715 1154.2,715 1154.7,715 1155.2,715 1155.7,715 1156.2,720.4 1156.7,722.5 1157.2,724.1 1157.7,725 1158.2,726.8 1158.7,728 1159.2,729.3 1159.7,730 1160.2,739.4 1160.7,742.9 1161.2,745 1161.7,748.9 1162.2,751.9 1162.7,753.2 1163.2,755 1163.7,755 1164.2,755 1164.7,759 1165.2,759 1165.7,759 1166.2,759 1166.7,759.1 1167.2,760.2 1167.7,759 1168.2,756.7 1168.7,755 1169.2,755.7 1169.7,756.2 1170.2,756.7 1170.7,757.2 1171.2,757.5 1171.7,760.4 1172.2,762.5 1172.7,770.2 1173.2,770.4 1173.7,770.5 1174.2,771.2 1174.7,771.2 1175.2,771.2 1175.7,769.8 1176.2,769.1 1176.7,768.5 1177.2,767.9 1177.7,767.5 1178.2,769.3 1178.7,770.5 1179.2,771.8 1179.7,772.5 1180.2,778.3 1180.7,778.6 1181.2,778.8 1181.7,779.7 1182.2,780.1 1182.7,780.5 1183.2,780.3 1183.7,780.1 1184.2,780 1184.7,776.9 1185.2,774.6 1185.7,773 1186.2,768.3 1186.7,760.2 1187.2,753.8 1187.7,754.4 1188.2,754.8 1188.7,755 1189.2,760.1 1189.7,763.4 1190.2,769.4 1190.7,776.6 1191.2,776.8 1191.7,777 1192.2,776.7 1192.7,776.6 1193.2,776.5 1193.7,776.5 1194.2,776.5 1194.7,775.7 1195.2,772.5 1195.7,773.4 1196.2,774 1196.7,774.6 1197.2,775 1197.7,784.6 1198.2,786.8 1198.7,789.1 1199.2,789.1 1199.7,789.1 1200.2,789.1 1200.7,789.1 1201.2,788.5 1201.7,787.9 1202.2,787.5 1202.7,787.9 1203.2,787.9 1203.7,787.9 1204.2,787.9 1204.7,787.9 1205.2,783.4 1205.7,779.1 1206.2,777.3 1206.7,774 1207.2,770.8 1207.7,767.2 1208.2,765 1208.7,765.9 1209.2,766.5 1209.7,767.1 1210.2,767.5 1210.7,770.8 1211.2,774.6 1211.7,780 1212.2,783.8 1212.7,787.9 1213.2,794 1213.7,797.3 1214.2,801.9 1214.7,804.9 1215.2,807.8 1215.7,810.9 1216.2,815 1216.7,815 1217.2,815 1217.7,815 1218.2,815.7 1218.7,816.2 1219.2,816.7 1219.7,817.2 1220.2,817.5 1220.7,821.6 1221.2,822 1221.7,822.2 1222.2,822.2 1222.7,822.2 1223.2,820 1223.7,820 1224.2,820 1224.7,820 1225.2,820 1225.7,826.1 1226.2,832 1226.7,833.4 1227.2,845.5 1227.7,845.5 1228.2,845.5 1228.7,845.5 1229.2,845.5 1229.7,845.5 1230.2,845 1230.7,847.3 1231.2,849 1231.7,850 1232.2,857.1 1232.7,860.8 1233.2,872.8 1233.7,877.8 1234.2,879.9 1234.7,878.2 1235.2,878.1 1235.7,877.8 1236.2,877.5 1236.7,876.8 1237.2,876.5 1237.7,874.8 1238.2,874 1238.7,871.6 1239.2,865.5 1239.7,863.1 1240.2,860 1240.7,857.5 1241.2,858.9 1241.7,858.9 1242.2,858.9 1242.7,858.9 1243.2,858.9 1243.7,858.9 1244.2,858 1244.7,854.7 1245.2,851.8 1245.7,850 1246.2,858.8 1246.7,862.6 1247.2,865 1247.7,874.8 1248.2,878.4 1248.7,879.5 1249.2,880.2 1249.7,881 1250.2,883.3 1250.7,883.4 1251.2,880.4 1251.7,879.4 1252.2,879.4 1252.7,879.4 1253.2,860 1253.7,872.3 1254.2,881.5 1254.7,881.5 1255.2,881.5 1255.7,881.5 1256.2,880.9 1256.7,880.6 1257.2,880.6 1257.7,880.6 1258.2,877.7 1258.7,873.8 1259.2,877.3 1259.7,878.8 1260.2,888.1 1260.7,889.2 1261.2,893.7 1261.7,893.7 1262.2,894.1 1262.7,894.6 1263.2,895.3 1263.7,894.5 1264.2,893.6 1264.7,893.2 1265.2,892.8 1265.7,890.4 1266.2,888.8 1266.7,888.8 1267.2,888.8 1267.7,888.8 1268.2,888.8 1268.7,888 1269.2,884.6 1269.7,880.7 1270.2,877.1 1270.7,872 1271.2,868.9 1271.7,866.3 1272.2,862 1272.7,859.6 1273.2,855.6 1273.7,852.1 1274.2,851.1 1274.7,847.4 1275.2,841.4 1275.7,836.7 1276.2,829.6 1276.7,822.9 1277.2,818.9 1277.7,805.6 1278.2,804.1 1278.7,801.5 1279.2,793.2 1279.7,782.8 1280.2,751.6 1280.7,719.1 1281.2,715.5 1281.7,711.4 1282.2,700 1282.7,700 1283.2,700 1283.7,700 1284.2,700 1284.7,705.4 1285.2,710 1285.7,710 1286.2,710 1286.7,710 1287.2,710 1287.7,711.2 1288.2,712 1288.7,712.5 1289.2,725.9 1289.7,728 1290.2,730.1 1290.7,755.6 1291.2,758.1 1291.7,759.5 1292.2,784.1 1292.7,794.5 1293.2,794.6 1293.7,795.1 1294.2,796.2 1294.7,796 1295.2,796 1295.7,796 1296.2,796 1296.7,794 1297.2,794 1297.7,791.4 1298.2,789.2 1298.7,788.2 1299.2,788.2 1299.7,787.4 1300.2,773.8 1300.7,777.9 1301.2,781.9 1301.7,794.3 1302.2,796.3 1302.7,802.5 1303.2,808.6 1303.7,812.5 1304.2,814.6 1304.7,814.1 1305.2,813.8 1305.7,813.8 1306.2,812.8 1306.7,810.2 1307.2,807.5 1307.7,808.7 1308.2,809.5 1308.7,810 1309.2,814.7 1309.7,815.7 1310.2,815.7 1310.7,815.7 1311.2,816 1311.7,816.9 1312.2,817.6 1312.7,817.8 1313.2,813.8 1313.7,809.8 1314.2,803.5 1314.7,796.4 1315.2,786.8 1315.7,780.4 1316.2,775.3 1316.7,771.1 1317.2,760.7 1317.7,758.9 1318.2,751.2 1318.7,755.1 1319.2,771.5 1319.7,771.5 1320.2,771.5 1320.7,771.5 1321.2,771.5 1321.7,772.4 1322.2,765 1322.7,774 1323.2,791 1323.7,802.9 1324.2,804.4 1324.7,812.6 1325.2,813.4 1325.7,816.1 1326.2,815.4 1326.7,812.7 1327.2,810.5 1327.7,809.7 1328.2,809.7 1328.7,809.7 1329.2,806.2 1329.7,799.2 1330.2,794.3 1330.7,788.7 1331.2,778.6 1331.7,755 1332.2,754.7 1332.7,754.1 1333.2,753.8 1333.7,760.4 1334.2,778.7 1334.7,780.9 1335.2,795.3 1335.7,808.2 1336.2,815 1336.7,815 1337.2,815 1337.7,817.6 1338.2,819.1 1338.7,822.5 1339.2,822.5 1339.7,822.5 1340.2,822.5 1340.7,821.6 1341.2,820.7 1341.7,815.2 1342.2,814.3 1342.7,803 1343.2,795 1343.7,820 1344.2,822.9 1344.7,822.9 1345.2,822.9 1345.7,822.9 1346.2,822.9 1346.7,822.9 1347.2,822.9 1347.7,822.9 1348.2,821 1348.7,817.2 1349.2,815 1349.7,823.3 1350.2,827.6 1350.7,829.9 1351.2,829.9 1351.7,830.9 1352.2,832.2 1352.7,832.1 1353.2,832.1 1353.7,832 1354.2,829.9 1354.7,829.3 1355.2,825.1 1355.7,820 1356.2,809.1 1356.7,804.3 1357.2,802.6 1357.7,772.2 1358.2,740.1 1358.7,738.3 1359.2,716.4 1359.7,704.3 1360.2,702.5 1360.7,687.8 1361.2,683.8 1361.7,684.2 1362.2,684.5 1362.7,684.8 1363.2,685 1363.7,689.5 1364.2,730 1364.7,733.5 1365.2,747.9 1365.7,751.1 1366.2,751.3 1366.7,754.2 1367.2,754.6 1367.7,756.5 1368.2,753.1 1368.7,753.1 1369.2,752.3 1369.7,747.5 1370.2,753 1370.7,753 1371.2,753 1371.7,753 1372.2,753 1372.7,750 1373.2,751.8 1373.7,753 1374.2,753 1374.7,753 1375.2,753 1375.7,753 1376.2,752.7 1376.7,751.1 1377.2,746.4 1377.7,739.5 1378.2,738.2 1378.7,737 1379.2,736.2 1379.7,742.4 1380.2,744.1 1380.7,744.9 1381.2,744.9 1381.7,744.9 1382.2,746.2 1382.7,745.6 1383.2,745.6 1383.7,742.5 1384.2,741.8 1384.7,740.7 1385.2,740 1385.7,741.8 1386.2,743.1 1386.7,748.3 1387.2,748.3 1387.7,748.3 1388.2,749.7 1388.7,749.6 1389.2,749.5 1389.7,749.5 1390.2,749.5 1390.7,747.8 1391.2,745 1391.7,743.9 1392.2,741.5 1392.7,715 1393.2,714.5 1393.7,702.5 1394.2,702 1394.7,701.2 1395.2,701.2 1395.7,701.2 1396.2,701.2 1396.7,701.2 1397.2,698.2 1397.7,676.4 1398.2,664.1 1398.7,654.4 1399.2,654.4 1399.7,654.4 1400.2,654.4 1400.7,659.5 1401.2,659.5 1401.7,659.5 1402.2,659.5 1402.7,659.5 1402.7,688.5 1402.2,683.4 1401.7,683.4 1401.2,683.4 1400.7,683.4 1400.2,683.4 1399.7,683.4 1399.2,683.4 1398.7,683.4 1398.2,684.8 1397.7,696.5 1397.2,733.8 1396.7,735.2 1396.2,737.5 1395.7,732.1 1395.2,732.1 1394.7,732.1 1394.2,732.2 1393.7,732.2 1393.2,734.1 1392.7,739.7 1392.2,741.5 1391.7,743.9 1391.2,751.2 1390.7,769.9 1390.2,781.2 1389.7,781.4 1389.2,781.7 1388.7,782 1388.2,782.5 1387.7,772.5 1387.2,772.5 1386.7,770.8 1386.2,770.7 1385.7,770.7 1385.2,768.9 1384.7,768.9 1384.2,768.9 1383.7,768.9 1383.2,768.9 1382.7,773.4 1382.2,777.5 1381.7,769.1 1381.2,767.2 1380.7,766.9 1380.2,766.9 1379.7,766.9 1379.2,766.9 1378.7,766.9 1378.2,767.1 1377.7,767.1 1377.2,767.9 1376.7,769 1376.2,780 1375.7,775.5 1375.2,775.5 1374.7,775.5 1374.2,775.5 1373.7,775.5 1373.2,775.5 1372.7,775.5 1372.2,780.9 1371.7,783.2 1371.2,785 1370.7,779.8 1370.2,779.8 1369.7,779.4 1369.2,779.4 1368.7,779.4 1368.2,782 1367.7,807.5 1367.2,794.6 1366.7,791.9 1366.2,772.5 1365.7,771.4 1365.2,749.9 1364.7,744 1364.2,734.9 1363.7,728.9 1363.2,728.2 1362.7,728.2 1362.2,728.1 1361.7,728.1 1361.2,728 1360.7,728.6 1360.2,730.8 1359.7,731.1 1359.2,735.8 1358.7,738.3 1358.2,769.7 1357.7,801.6 1357.2,802.6 1356.7,805 1356.2,820.2 1355.7,841.7 1355.2,844.7 1354.7,856 1354.2,857.3 1353.7,871.2 1353.2,871.5 1352.7,872 1352.2,872.5 1351.7,863.6 1351.2,856.8 1350.7,856.8 1350.2,856.6 1349.7,853.5 1349.2,849.7 1348.7,849.3 1348.2,849.3 1347.7,849.3 1347.2,849.3 1346.7,849.3 1346.2,849.3 1345.7,850 1345.2,851.9 1344.7,855 1344.2,849.3 1343.7,849.3 1343.2,846 1342.7,847.2 1342.2,848.9 1341.7,849 1341.2,849 1340.7,859 1340.2,865 1339.7,857.5 1339.2,857.5 1338.7,857.5 1338.2,857.5 1337.7,857.5 1337.2,857.5 1336.7,863.7 1336.2,873.8 1335.7,855.9 1335.2,854.5 1334.7,853.7 1334.2,844.8 1333.7,829.4 1333.2,827.1 1332.7,827.1 1332.2,827.2 1331.7,827.2 1331.2,830.8 1330.7,832.3 1330.2,833.1 1329.7,833.9 1329.2,835 1328.7,840 1328.2,840 1327.7,840 1327.2,845.1 1326.7,860 1326.2,877.5 1325.7,882.5 1325.2,864.7 1324.7,859 1324.2,856 1323.7,854.9 1323.2,848.1 1322.7,837.4 1322.2,825.9 1321.7,814.1 1321.2,808.5 1320.7,806.6 1320.2,806 1319.7,803 1319.2,802 1318.7,801.2 1318.2,801.2 1317.7,801.2 1317.2,801.4 1316.7,802.9 1316.2,806.6 1315.7,833.5 1315.2,845.8 1314.7,848.7 1314.2,857.2 1313.7,866.2 1313.2,865.1 1312.7,863.4 1312.2,861.6 1311.7,857.4 1311.2,851.4 1310.7,849.4 1310.2,849.4 1309.7,846.5 1309.2,844.9 1308.7,844.5 1308.2,843.5 1307.7,843.3 1307.2,843.2 1306.7,843.2 1306.2,843.2 1305.7,843.2 1305.2,846.5 1304.7,851.6 1304.2,857.5 1303.7,840.5 1303.2,839.6 1302.7,825 1302.2,818.6 1301.7,818.3 1301.2,816.4 1300.7,815.8 1300.2,815.2 1299.7,817.2 1299.2,817.3 1298.7,817.3 1298.2,817.5 1297.7,818.2 1297.2,822.5 1296.7,821.5 1296.2,821.5 1295.7,821.5 1295.2,821.5 1294.7,821.5 1294.2,823.8 1293.7,816.4 1293.2,812.7 1292.7,812.2 1292.2,811 1291.7,780 1291.2,758.1 1290.7,755.6 1290.2,754.2 1289.7,754.2 1289.2,754.2 1288.7,743.4 1288.2,733.2 1287.7,733.2 1287.2,733.2 1286.7,733.2 1286.2,733.2 1285.7,735 1285.2,732.5 1284.7,730.6 1284.2,729.8 1283.7,729.8 1283.2,729.8 1282.7,729.8 1282.2,729.8 1281.7,731.5 1281.2,746 1280.7,748.8 1280.2,780.1 1279.7,790.7 1279.2,800 1278.7,801.5 1278.2,804.1 1277.7,815 1277.2,820.1 1276.7,830 1276.2,845.4 1275.7,849.8 1275.2,856.1 1274.7,859 1274.2,862.9 1273.7,864.6 1273.2,868.1 1272.7,870.4 1272.2,873.5 1271.7,877 1271.2,881.9 1270.7,885.4 1270.2,889.1 1269.7,892 1269.2,895.3 1268.7,898.8 1268.2,901.3 1267.7,905 1267.2,905.2 1266.7,907 1266.2,907.6 1265.7,910.5 1265.2,913.2 1264.7,915.4 1264.2,918.1 1263.7,924.2 1263.2,930 1262.7,925.3 1262.2,921.9 1261.7,919 1261.2,914.5 1260.7,914.5 1260.2,914.3 1259.7,912.9 1259.2,912.7 1258.7,912.2 1258.2,912.2 1257.7,912.2 1257.2,913.9 1256.7,918.6 1256.2,921.4 1255.7,925 1255.2,917.3 1254.7,917.3 1254.2,917.3 1253.7,917.1 1253.2,916.9 1252.7,917.5 1252.2,938.9 1251.7,941 1251.2,963.8 1250.7,931.9 1250.2,931.2 1249.7,915.9 1249.2,910.6 1248.7,905.9 1248.2,898.8 1247.7,894.4 1247.2,889 1246.7,882.1 1246.2,878 1245.7,875.5 1245.2,875.8 1244.7,876.2 1244.2,876.6 1243.7,876.6 1243.2,876.6 1242.7,880 1242.2,877.7 1241.7,877.7 1241.2,877.7 1240.7,877.7 1240.2,877.7 1239.7,877.7 1239.2,879.8 1238.7,884.4 1238.2,889.6 1237.7,893.1 1237.2,897.3 1236.7,899.2 1236.2,904.1 1235.7,906.4 1235.2,908.2 1234.7,908.7 1234.2,920 1233.7,905.8 1233.2,889.9 1232.7,876.2 1232.2,867.9 1231.7,864.9 1231.2,857.8 1230.7,857.1 1230.2,856.2 1229.7,855 1229.2,855 1228.7,855 1228.2,855 1227.7,852.7 1227.2,850.8 1226.7,848.3 1226.2,845.9 1225.7,845.4 1225.2,842.3 1224.7,838.8 1224.2,837 1223.7,837 1223.2,837 1222.7,837 1222.2,837 1221.7,837.5 1221.2,833 1220.7,830.6 1220.2,830.1 1219.7,827.9 1219.2,826.3 1218.7,826.3 1218.2,825 1217.7,825 1217.2,825 1216.7,825 1216.2,825 1215.7,825 1215.2,825 1214.7,825 1214.2,825 1213.7,823 1213.2,820.5 1212.7,816.7 1212.2,811 1211.7,804.9 1211.2,797.7 1210.7,793.7 1210.2,793.2 1209.7,793.1 1209.2,793.1 1208.7,793 1208.2,792.8 1207.7,793.2 1207.2,793.7 1206.7,794.3 1206.2,795.3 1205.7,798.7 1205.2,803.9 1204.7,805.1 1204.2,806.7 1203.7,808.8 1203.2,804.1 1202.7,803.7 1202.2,803.1 1201.7,803.1 1201.2,803.1 1200.7,802.5 1200.2,802.5 1199.7,802.5 1199.2,802.5 1198.7,802.5 1198.2,798.9 1197.7,797.4 1197.2,797.4 1196.7,795.8 1196.2,795.6 1195.7,795.1 1195.2,794.9 1194.7,794.9 1194.2,794.9 1193.7,794.9 1193.2,794.9 1192.7,799.5 1192.2,800.6 1191.7,802.5 1191.2,801.2 1190.7,799.5 1190.2,792.8 1189.7,791.3 1189.2,789.1 1188.7,787.8 1188.2,787.8 1187.7,787.7 1187.2,787.7 1186.7,788.6 1186.2,789.8 1185.7,792.1 1185.2,793.6 1184.7,798.6 1184.2,810.6 1183.7,811.4 1183.2,812.4 1182.7,813.8 1182.2,811.3 1181.7,808.9 1181.2,802.8 1180.7,801.4 1180.2,799.6 1179.7,798.1 1179.2,795.5 1178.7,794.5 1178.2,792.4 1177.7,790.6 1177.2,790.4 1176.7,788.8 1176.2,788.8 1175.7,788.8 1175.2,788.8 1174.7,788.8 1174.2,792.5 1173.7,787.5 1173.2,786.9 1172.7,785.8 1172.2,785.8 1171.7,784.9 1171.2,784.9 1170.7,784.1 1170.2,781.5 1169.7,781.4 1169.2,781.4 1168.7,781.4 1168.2,781.4 1167.7,785.6 1167.2,790 1166.7,782.2 1166.2,782 1165.7,782 1165.2,782 1164.7,782 1164.2,781.2 1163.7,781.2 1163.2,780.6 1162.7,763.6 1162.2,760.9 1161.7,760.2 1161.2,756.5 1160.7,754.3 1160.2,751.6 1159.7,749.1 1159.2,744 1158.7,740.8 1158.2,737.7 1157.7,737.5 1157.2,735.1 1156.7,735 1156.2,735 1155.7,735 1155.2,735 1154.7,735 1154.2,735 1153.7,732 1153.2,730.5 1152.7,730.5 1152.2,730.4 1151.7,730.4 1151.2,730.3 1150.7,730.7 1150.2,731.3 1149.7,732.2 1149.2,735.4 1148.7,745.3 1148.2,760.4 1147.7,775.3 1147.2,784.1 1146.7,792 1146.2,798.3 1145.7,803.7 1145.2,804.6 1144.7,807.9 1144.2,809.9 1143.7,809.9 1143.2,815 1142.7,819.2 1142.2,821.6 1141.7,827.5 1141.2,827.5 1140.7,827.5 1140.2,827.5 1139.7,827.5 1139.2,827.8 1138.7,837.5 1138.2,837.5 1137.7,837.5 1137.2,837.5 1136.7,837.5 1136.2,830.2 1135.7,829 1135.2,804.1 1134.7,800.2 1134.2,797.5 1133.7,786 1133.2,784.7 1132.7,780.8 1132.2,778.2 1131.7,777.3 1131.2,775.5 1130.7,775.5 1130.2,775.1 1129.7,774.7 1129.2,774.7 1128.7,774.7 1128.2,774.7 1127.7,774.7 1127.2,775 1126.7,775.2 1126.2,782.5 1125.7,782.5 1125.2,782.5 1124.7,782.5 1124.2,769.3 1123.7,766.4 1123.2,758.9 1122.7,752.2 1122.2,746 1121.7,741.4 1121.2,740 1120.7,738.2 1120.2,735.3 1119.7,732.1 1119.2,731.2 1118.7,729.8 1118.2,728.8 1117.7,726.2 1117.2,725.5 1116.7,723.2 1116.2,720.4 1115.7,720.2 1115.2,720 1114.7,720 1114.2,720 1113.7,718 1113.2,717.3 1112.7,716.8 1112.2,716.8 1111.7,716.8 1111.2,716.8 1110.7,718.6 1110.2,722.3 1109.7,730 1109.2,730 1108.7,730 1108.2,724.6 1107.7,716.9 1107.2,711.6 1106.7,708.3 1106.2,705 1105.7,701.9 1105.2,701.4 1104.7,702 1104.2,703 1103.7,703.3 1103.2,704.1 1102.7,704.3 1102.2,704.6 1101.7,704.9 1101.2,709.7 1100.7,735.5 1100.2,737.1 1099.7,745 1099.2,746.1 1098.7,748.2 1098.2,755 1097.7,756 1097.2,757.7 1096.7,760 1096.2,760 1095.7,760 1095.2,760 1094.7,760 1094.2,762.3 1093.7,763.6 1093.2,766 1092.7,766.3 1092.2,770.9 1091.7,774.7 1091.2,781.2 1090.7,770.5 1090.2,768.4 1089.7,766.3 1089.2,756.1 1088.7,750.9 1088.2,745.1 1087.7,737.8 1087.2,732 1086.7,721.3 1086.2,709.4 1085.7,695.5 1085.2,692.5 1084.7,692.5 1084.2,692.5 1083.7,692.5 1083.2,692.5 1082.7,688.6 1082.2,682.2 1081.7,681.4 1081.2,681.1 1080.7,680.9 1080.2,679 1079.7,679 1079.2,681.2 1078.7,685 1078.2,679 1077.7,677.3 1077.2,675.7 1076.7,671.6 1076.2,658.8 1075.7,655 1075.2,646 1074.7,644.1 1074.2,633.7 1073.7,630.2 1073.2,627.5 1072.7,627.5 1072.2,627.5 1071.7,627.5 1071.2,627.5 1070.7,623.5 1070.2,622.2 1069.7,622.2 1069.2,621.1 1068.7,619.6 1068.2,615.4 1067.7,614.2 1067.2,610.5 1066.7,605.1 1066.2,600.9 1065.7,595.5 1065.2,592.7 1064.7,589.3 1064.2,586.3 1063.7,582.8 1063.2,578.4 1062.7,573.5 1062.2,568.9 1061.7,564.2 1061.2,560 1060.7,560 1060.2,555.9 1059.7,552.9 1059.2,551 1058.7,549 1058.2,544.6 1057.7,542.4 1057.2,540.7 1056.7,540.3 1056.2,540.2 1055.7,540.2 1055.2,540.1 1054.7,541.6 1054.2,542.1 1053.7,542.6 1053.2,551.7 1052.7,555.7 1052.2,560 1051.7,553.8 1051.2,551.5 1050.7,551.5 1050.2,551.5 1049.7,551.5 1049.2,550.5 1048.7,547 1048.2,546.4 1047.7,546.4 1047.2,546.4 1046.7,546.2 1046.2,545.2 1045.7,546.4 1045.2,546.6 1044.7,546.8 1044.2,547.4 1043.7,551.3 1043.2,566 1042.7,574 1042.2,577 1041.7,590.9 1041.2,603.6 1040.7,605.9 1040.2,633.3 1039.7,636 1039.2,639.3 1038.7,671 1038.2,678.7 1037.7,700.9 1037.2,705 1036.7,703.4 1036.2,700.8 1035.7,695 1035.2,689.7 1034.7,687.9 1034.2,686.5 1033.7,678.1 1033.2,676.3 1032.7,671.7 1032.2,668.4 1031.7,668.4 1031.2,668.4 1030.7,669.1 1030.2,669.5 1029.7,669.5 1029.2,669.5 1028.7,669.5 1028.2,672.7 1027.7,675.2 1027.2,679.7 1026.7,684.6 1026.2,690.3 1025.7,693.7 1025.2,699 1024.7,702.6 1024.2,706.1 1023.7,710.9 1023.2,715.2 1022.7,717.9 1022.2,727.5 1021.7,715 1021.2,715 1020.7,714.6 1020.2,714.2 1019.7,711.7 1019.2,710.9 1018.7,710.2 1018.2,708.6 1017.7,704.9 1017.2,704.9 1016.7,704.9 1016.2,704.9 1015.7,704.9 1015.2,705.2 1014.7,710.6 1014.2,726.6 1013.7,728.7 1013.2,731.3 1012.7,735.3 1012.2,750 1011.7,748.5 1011.2,745.9 1010.7,745.9 1010.2,745.9 1009.7,745.9 1009.2,745.9 1008.7,746.5 1008.2,757.5 1007.7,742.8 1007.2,737.8 1006.7,733.5 1006.2,720.1 1005.7,700.6 1005.2,680.9 1004.7,668.1 1004.2,658.2 1003.7,650.2 1003.2,648.9 1002.7,648.4 1002.2,645.1 1001.7,645.1 1001.2,645.1 1000.7,645.1 1000.2,645.3 999.7,645.7 999.2,649.8 998.7,654.9 998.2,660 997.7,654 997.2,654 996.7,654 996.2,654 995.7,654 995.2,654 994.7,654 994.2,654 993.7,672.4 993.2,675 992.7,672.3 992.2,666.8 991.7,663.3 991.2,659 990.7,658.8 990.2,658.8 989.7,657.1 989.2,656.9 988.7,654.3 988.2,654.3 987.7,654.3 987.2,654.3 986.7,654.3 986.2,657.3 985.7,668.7 985.2,687.5 984.7,651.6 984.2,650.2 983.7,650.2 983.2,649.8 982.7,557.2 982.2,555 981.7,505.4 981.2,480.4 980.7,480.4 980.2,480.4 979.7,470.5 979.2,469 978.7,468.9 978.2,468.8 977.7,469 977.2,469.3 976.7,469.6 976.2,469.6 975.7,469.6 975.2,475 974.7,473.8 974.2,471.9 973.7,470 973.2,465.6 972.7,464.7 972.2,462.7 971.7,461.3 971.2,459.9 970.7,459.9 970.2,459.9 969.7,459.9 969.2,459.9 968.7,460 968.2,451.1 967.7,447.9 967.2,447.4 966.7,445.5 966.2,442.4 965.7,441.6 965.2,440.8 964.7,440 964.2,438.5 963.7,437.5 963.2,436.4 962.7,435.8 962.2,435.8 961.7,435.8 961.2,435.8 960.7,438.6 960.2,440.4 959.7,441.5 959.2,446.3 958.7,465 958.2,490.2 957.7,502 957.2,510 956.7,521.7 956.2,525.2 955.7,544.5 955.2,552.3 954.7,557.5 954.2,557.5 953.7,557.5 953.2,557.5 952.7,564.5 952.2,565.2 951.7,572.5 951.2,549.5 950.7,543.5 950.2,537.3 949.7,528.2 949.2,516.6 948.7,506.2 948.2,499.6 947.7,499.3 947.2,499.1 946.7,497.9 946.2,495.9 945.7,492.2 945.2,488.1 944.7,484.8 944.2,482.2 943.7,479.6 943.2,477.7 942.7,473.8 942.2,467.2 941.7,460.5 941.2,451.5 940.7,443.9 940.2,435.3 939.7,428.3 939.2,421.7 938.7,417.7 938.2,417.5 937.7,417.1 937.2,416 936.7,411.3 936.2,408.3 935.7,404.5 935.2,401.5 934.7,401.2 934.2,401.2 933.7,401.2 933.2,401.2 932.7,401.2 932.2,401.2 931.7,401.3 931.2,402 930.7,402.2 930.2,404 929.7,423.9 929.2,435.3 928.7,445 928.2,438.3 927.7,439 927.2,439.5 926.7,439.8 926.2,439.8 925.7,441.1 925.2,441.1 924.7,441.1 924.2,454.9 923.7,460.3 923.2,470 922.7,468.8 922.2,466.7 921.7,456.5 921.2,454.6 920.7,451.6 920.2,449 919.7,445.5 919.2,439.3 918.7,432.6 918.2,430 917.7,430 917.2,430 916.7,430 916.2,430 915.7,435 915.2,422.2 914.7,419.5 914.2,417.5 913.7,416.1 913.2,413.7 912.7,413.7 912.2,413.7 911.7,413.7 911.2,413.7 910.7,416.3 910.2,420.3 909.7,425.6 909.2,425.6 908.7,425.6 908.2,440 907.7,473.4 907.2,488.9 906.7,498.5 906.2,508.8 905.7,512.2 905.2,532.5 904.7,508.7 904.2,508.6 903.7,508.4 903.2,507.2 902.7,505.3 902.2,504.9 901.7,504.9 901.2,504.9 900.7,504.9 900.2,504.9 899.7,508.1 899.2,521.3 898.7,574.9 898.2,578.8 897.7,581.2 897.2,540.8 896.7,540.8 896.2,461.1 895.7,457.6 895.2,444.4 894.7,444.2 894.2,441.4 893.7,441.4 893.2,442.6 892.7,445.1 892.2,456.4 891.7,466.7 891.2,472.5 890.7,504.3 890.2,506.2 889.7,520.5 889.2,525 888.7,550.9 888.2,552.4 887.7,555 887.2,551.8 886.7,548.3 886.2,546.5 885.7,546.5 885.2,545.9 884.7,545.9 884.2,545.9 883.7,545.9 883.2,545.9 882.7,546.4 882.2,546.4 881.7,546.5 881.2,555 880.7,551.2 880.2,544.7 879.7,544.3 879.2,542.6 878.7,542.6 878.2,542.4 877.7,539.5 877.2,538.9 876.7,535.8 876.2,532.2 875.7,527.5 875.2,524 874.7,522.3 874.2,520.4 873.7,519.5 873.2,519.2 872.7,518.7 872.2,519 871.7,519.6 871.2,520.5 870.7,521.3 870.2,534.4 869.7,546.3 869.2,555 868.7,580.4 868.2,590 867.7,585.4 867.2,585.9 866.7,585.9 866.2,585.9 865.7,586 865.2,586.1 864.7,586.2 864.2,588.8 863.7,595.6 863.2,603 862.7,608.7 862.2,611.8 861.7,615.6 861.2,617.3 860.7,620.3 860.2,627.5 859.7,624.9 859.2,624.9 858.7,624.9 858.2,624.9 857.7,625.6 857.2,625.8 856.7,626 856.2,631.7 855.7,633.9 855.2,640 854.7,642 854.2,646.1 853.7,650 853.2,655.6 852.7,657.4 852.2,660 851.7,660 851.2,660 850.7,660 850.2,660 849.7,664.4 849.2,670.5 848.7,674.5 848.2,680.6 847.7,685 847.2,685.9 846.7,690.9 846.2,692.2 845.7,693.5 845.2,693.5 844.7,693.9 844.2,695 843.7,695 843.2,696.8 842.7,697.1 842.2,698.2 841.7,699.5 841.2,700.7 840.7,703.8 840.2,705 839.7,705 839.2,705.9 838.7,705.8 838.2,705.8 837.7,705.8 837.2,705.8 836.7,705.8 836.2,707.2 835.7,708.2 835.2,708.2 834.7,710 834.2,710 833.7,712.8 833.2,713.9 832.7,715.5 832.2,722.5 831.7,720.4 831.2,717.7 830.7,716.5 830.2,715.8 829.7,714.2 829.2,713.2 828.7,713.2 828.2,710.2 827.7,709.8 827.2,706.1 826.7,705 826.2,703.8 825.7,701.9 825.2,701.9 824.7,699.9 824.2,698.4 823.7,696.5 823.2,693.9 822.7,690.9 822.2,689.8 821.7,688.6 821.2,686.3 820.7,684.2 820.2,683.9 819.7,682 819.2,680.9 818.7,677.2 818.2,677.2 817.7,675.7 817.2,673.2 816.7,671.7 816.2,671.4 815.7,670.5 815.2,670.5 814.7,670.4 814.2,670.4 813.7,670.5 813.2,670.8 812.7,672 812.2,675.5 811.7,685.1 811.2,696.3 810.7,702.6 810.2,706.8 809.7,715.4 809.2,717.4 808.7,721.3 808.2,727.5 807.7,726.4 807.2,724.6 806.7,722.7 806.2,720.8 805.7,718.7 805.2,716.6 804.7,715.9 804.2,713.2 803.7,711 803.2,710 802.7,710 802.2,704.6 801.7,703.4 801.2,700.9 800.7,697.3 800.2,693.6 799.7,687.7 799.2,684.3 798.7,684.2 798.2,684.1 797.7,683.9 797.2,684.9 796.7,685.5 796.2,685.7 795.7,686.2 795.2,686.4 794.7,686.8 794.2,690.8 793.7,695.2 793.2,696.4 792.7,707.5 792.2,699.6 791.7,699.6 791.2,699.6 790.7,697.1 790.2,697.1 789.7,695.7 789.2,695.7 788.7,695.7 788.2,695.7 787.7,695.7 787.2,697.5 786.7,696.8 786.2,695.7 785.7,694.6 785.2,690.1 784.7,685.3 784.2,680.1 783.7,675.6 783.2,670.8 782.7,664 782.2,657.5 781.7,649.8 781.2,644.9 780.7,639.2 780.2,634.4 779.7,632 779.2,630.5 778.7,630.5 778.2,630.4 777.7,630.4 777.2,630.3 776.7,630.3 776.2,630.3 775.7,630.3 775.2,634.8 774.7,642.5 774.2,630.1 773.7,630.1 773.2,629.6 772.7,575.7 772.2,570 771.7,570 771.2,570 770.7,570 770.2,570 769.7,566.3 769.2,554.2 768.7,551.2 768.2,546 767.7,546 767.2,544.4 766.7,540.5 766.2,537.4 765.7,537 765.2,537 764.7,537 764.2,537 763.7,537 763.2,537 762.7,537 762.2,540 761.7,533.7 761.2,526.3 760.7,512 760.2,510 759.7,499.9 759.2,494.4 758.7,490.6 758.2,477.6 757.7,476.7 757.2,475.8 756.7,464.3 756.2,463.4 755.7,462.7 755.2,458.2 754.7,447.8 754.2,447.8 753.7,447.8 753.2,445.2 752.7,443.9 752.2,442.5 751.7,442.5 751.2,442.5 750.7,442.5 750.2,442.7 749.7,443.2 749.2,444.2 748.7,447.3 748.2,450 747.7,453.8 747.2,467.1 746.7,478.8 746.2,482.5 745.7,479.9 745.2,468.8 744.7,467.8 744.2,466.1 743.7,463.8 743.2,462 742.7,457.8 742.2,455 741.7,452 741.2,448.5 740.7,447.8 740.2,445.7 739.7,444 739.2,441.3 738.7,440.9 738.2,440.9 737.7,440 737.2,436.6 736.7,435.3 736.2,432.6 735.7,432.6 735.2,430 734.7,430 734.2,430 733.7,423.8 733.2,422.9 732.7,422.7 732.2,420.7 731.7,420.7 731.2,420.2 730.7,418.2 730.2,418.2 729.7,417.9 729.2,415.1 728.7,412.6 728.2,410.9 727.7,410.8 727.2,410.8 726.7,410.8 726.2,410.8 725.7,413.9 725.2,413.9 724.7,415.8 724.2,440.3 723.7,470.2 723.2,473.9 722.7,484.5 722.2,511.6 721.7,515 721.2,515.4 720.7,516.1 720.2,516.8 719.7,517.5 719.2,498.6 718.7,493.3 718.2,485 717.7,476.5 717.2,470.5 716.7,469.4 716.2,469.4 715.7,469.4 715.2,469.4 714.7,469.4 714.2,469.4 713.7,470.9 713.2,475 712.7,471.2 712.2,465 711.7,464.1 711.2,462.4 710.7,460.4 710.2,455.9 709.7,452 709.2,447.5 708.7,447.5 708.2,447.5 707.7,447.5 707.2,447.5 706.7,444.1 706.2,444.1 705.7,444.1 705.2,443.2 704.7,442.6 704.2,442.6 703.7,444.8 703.2,444.8 702.7,447.6 702.2,447.6 701.7,454.2 701.2,460 700.7,461 700.2,462.7 699.7,465 699.2,465.8 698.7,467.1 698.2,482.5 697.7,477.2 697.2,463.5 696.7,459.2 696.2,455.5 695.7,452 695.2,447.9 694.7,446.1 694.2,443.5 693.7,440.5 693.2,440.5 692.7,440.5 692.2,440.5 691.7,440.5 691.2,445 690.7,444 690.2,442.3 689.7,440.7 689.2,435.8 688.7,435.8 688.2,435.8 687.7,435.8 687.2,435.7 686.7,435.6 686.2,435.5 685.7,435.5 685.2,435.5 684.7,440 684.2,435.5 683.7,435.5 683.2,435.1 682.7,435 682.2,434.9 681.7,434.8 681.2,434.8 680.7,434.8 680.2,440 679.7,434.8 679.2,434.8 678.7,434.8 678.2,434.8 677.7,434.8 677.2,440.6 676.7,445 676.2,439.1 675.7,438.8 675.2,437.7 674.7,437.7 674.2,437.7 673.7,437.7 673.2,437.7 672.7,458.3 672.2,462.3 671.7,473.5 671.2,495 670.7,495.4 670.2,496.2 669.7,496.9 669.2,497.5 668.7,487.1 668.2,487.1 667.7,487.1 667.2,487.1 666.7,487.1 666.2,487 665.7,493.5 665.2,516.6 664.7,531.5 664.2,535 663.7,527.2 663.2,527.2 662.7,527.2 662.2,526.6 661.7,525.9 661.2,525 660.7,525 660.2,525 659.7,525 659.2,525 658.7,522.1 658.2,522 657.7,520.5 657.2,520.4 656.7,520.3 656.2,520.1 655.7,519.9 655.2,520.5 654.7,521.1 654.2,523.6 653.7,549.7 653.2,558.5 652.7,561.7 652.2,590.2 651.7,591 651.2,595.2 650.7,605 650.2,603.4 649.7,603.4 649.2,603.4 648.7,603.4 648.2,603.4 647.7,604.5 647.2,607.1 646.7,610.7 646.2,615.2 645.7,620.6 645.2,627.6 644.7,632.1 644.2,636.2 643.7,646.7 643.2,655.4 642.7,658.8 642.2,654.5 641.7,649.1 641.2,648.5 640.7,646.8 640.2,643.2 639.7,640.1 639.2,640 638.7,640 638.2,640 637.7,636.7 637.2,636.2 636.7,634.4 636.2,634.3 635.7,634.3 635.2,634.2 634.7,634.9 634.2,639 633.7,642 633.2,648.2 632.7,655.6 632.2,662.5 631.7,655.1 631.2,651.9 630.7,649.1 630.2,642.9 629.7,640.8 629.2,640.8 628.7,639 628.2,639 627.7,639 627.2,639 626.7,639 626.2,640 625.7,635 625.2,635 624.7,632.9 624.2,632.8 623.7,632.8 623.2,632.7 622.7,632.7 622.2,632.7 621.7,636.5 621.2,640.3 620.7,647.5 620.2,634.7 619.7,627.4 619.2,625.9 618.7,620.6 618.2,618.9 617.7,614.5 617.2,611.5 616.7,609.9 616.2,606.4 615.7,604.2 615.2,599.2 614.7,594.1 614.2,591.7 613.7,543.4 613.2,542.8 612.7,542.7 612.2,542.5 611.7,542.2 611.2,542.6 610.7,542.6 610.2,542.6 609.7,542.6 609.2,542.6 608.7,550.3 608.2,552.5 607.7,558.8 607.2,550.3 606.7,542.3 606.2,542.3 605.7,541.9 605.2,540.8 604.7,541.3 604.2,541.8 603.7,542.3 603.2,542.9 602.7,544 602.2,545.3 601.7,550 601.2,545.5 600.7,545.5 600.2,545.5 599.7,545.5 599.2,545.5 598.7,545.5 598.2,545.8 597.7,546.3 597.2,548.7 596.7,550.3 596.2,554 595.7,554.3 595.2,557.5 594.7,563.9 594.2,567 593.7,569.4 593.2,572.1 592.7,573.3 592.2,576.4 591.7,578.6 591.2,579.6 590.7,582.5 590.2,583.9 589.7,585.9 589.2,590 588.7,590 588.2,591.6 587.7,593.6 587.2,593.6 586.7,595 586.2,600.1 585.7,603.7 585.2,606.4 584.7,610.2 584.2,614.9 583.7,619 583.2,622.6 582.7,628.8 582.2,635 581.7,635 581.2,635 580.7,635 580.2,635 579.7,635.6 579.2,638.3 578.7,642.7 578.2,654.3 577.7,657.5 577.2,650.4 576.7,650.4 576.2,650.2 575.7,649.8 575.2,649.2 574.7,647.4 574.2,647.3 573.7,647.2 573.2,656.8 572.7,660.7 572.2,671.2 571.7,669.2 571.2,666.5 570.7,661.6 570.2,658.5 569.7,657.6 569.2,657.1 568.7,655.3 568.2,655.1 567.7,655 567.2,655 566.7,655 566.2,652.6 565.7,652.2 565.2,651.1 564.7,650.5 564.2,650 563.7,650 563.2,650 562.7,650 562.2,648.8 561.7,646.8 561.2,645.2 560.7,636.8 560.2,634.5 559.7,630.3 559.2,628 558.7,627.8 558.2,627.6 557.7,628.6 557.2,628.6 556.7,628.6 556.2,628.6 555.7,628.6 555.2,632.5 554.7,630.8 554.2,627.9 553.7,626.5 553.2,625.4 552.7,624.7 552.2,624.3 551.7,623.7 551.2,623.5 550.7,623.3 550.2,622.9 549.7,623.3 549.2,623.3 548.7,631 548.2,634.8 547.7,641.2 547.2,639.8 546.7,637.4 546.2,635.1 545.7,625.4 545.2,621.3 544.7,618.3 544.2,613.7 543.7,601.6 543.2,598.5 542.7,595 542.2,589.6 541.7,584.4 541.2,581.6 540.7,576.2 540.2,573.5 539.7,572.8 539.2,572.5 538.7,570.4 538.2,570.5 537.7,570.6 537.2,570.7 536.7,570.7 536.2,570.7 535.7,570.7 535.2,580 534.7,570 534.2,569.1 533.7,567.6 533.2,562.5 532.7,560.2 532.2,556.6 531.7,553 531.2,549.4 530.7,545.3 530.2,540.5 529.7,536.5 529.2,535.4 528.7,534.4 528.2,534.4 527.7,534.4 527.2,534.4 526.7,534.4 526.2,534.4 525.7,534.4 525.2,535.4 524.7,535.7 524.2,535.7 523.7,535.7 523.2,535.7 522.7,536.4 522.2,538.1 521.7,539.4 521.2,550 520.7,546.1 520.2,544.8 519.7,544.8 519.2,546.2 518.7,546.2 518.2,546.2 517.7,552.5 517.2,550.1 516.7,548.5 516.2,548.5 515.7,548.5 515.2,548.5 514.7,548.5 514.2,551.3 513.7,554 513.2,561.2 512.7,554.9 512.2,550.6 511.7,549.5 511.2,549 510.7,547.8 510.2,544.9 509.7,540.6 509.2,533.6 508.7,526.3 508.2,525.3 507.7,524 507.2,523.6 506.7,523 506.2,522.8 505.7,522.5 505.2,522.5 504.7,522.5 504.2,530 503.7,519.3 503.2,518.4 502.7,518.4 502.2,518.4 501.7,516.6 501.2,516.6 500.7,515.6 500.2,515.6 499.7,515 499.2,507.9 498.7,506.5 498.2,503.8 497.7,502.6 497.2,502.5 496.7,502.3 496.2,502.3 495.7,502.3 495.2,502.8 494.7,504.6 494.2,507.9 493.7,511.3 493.2,514.7 492.7,525 492.2,519.8 491.7,520 491.2,520.4 490.7,520.5 490.2,520.7 489.7,520.9 489.2,526.2 488.7,534.3 488.2,542.9 487.7,549.2 487.2,556.3 486.7,563.3 486.2,572.5 485.7,575.5 485.2,578.2 484.7,581.4 484.2,583.2 483.7,590 483.2,592.6 482.7,596.2 482.2,594.3 481.7,591.1 481.2,583.4 480.7,583.4 480.2,583.4 479.7,583.4 479.2,583.4 478.7,585 478.2,579.6 477.7,578.3 477.2,576.9 476.7,574.6 476.2,572.4 475.7,567.1 475.2,559.1 474.7,553.1 474.2,544.8 473.7,541.5 473.2,540.2 472.7,537.7 472.2,536.9 471.7,536.9 471.2,536.9 470.7,536.9 470.2,537.7 469.7,538.3 469.2,538.3 468.7,539.8 468.2,549.5 467.7,552 467.2,553.8 466.7,547.1 466.2,545.1 465.7,543 465.2,530.8 464.7,522.4 464.2,514.1 463.7,508.6 463.2,503.1 462.7,497.2 462.2,492.2 461.7,491.1 461.2,490.7 460.7,490.7 460.2,490.7 459.7,490.7 459.2,490.7 458.7,491.7 458.2,491.7 457.7,492.3 457.2,492.3 456.7,500 456.2,496.1 455.7,495.3 455.2,495.3 454.7,495.3 454.2,495.3 453.7,495.3 453.2,495.3 452.7,495.3 452.2,495.3 451.7,495.3 451.2,505 450.7,482.7 450.2,480.1 449.7,470.9 449.2,458.4 448.7,446.7 448.2,433.4 447.7,423.4 447.2,414.9 446.7,410 446.2,410 445.7,409.9 445.2,409.9 444.7,410 444.2,410 443.7,410 443.2,410 442.7,410 442.2,412.5 441.7,422.5 441.2,422.1 440.7,421.4 440.2,420.7 439.7,420 439.2,414.3 438.7,414.3 438.2,413.7 437.7,413.1 437.2,413.1 436.7,413.2 436.2,413.2 435.7,413.2 435.2,413.2 434.7,419 434.2,430 433.7,426.7 433.2,413.8 432.7,413.8 432.2,411 431.7,410.2 431.2,408.5 430.7,407.3 430.2,407.3 429.7,406 429.2,406 428.7,406 428.2,406 427.7,406 427.2,406.4 426.7,407.2 426.2,413 425.7,420.4 425.2,426.1 424.7,437.1 424.2,442.5 423.7,442.8 423.2,443.4 422.7,443.9 422.2,444.5 421.7,445 421.2,440.8 420.7,440.8 420.2,440.8 419.7,440.8 419.2,440.7 418.7,440.6 418.2,440.5 417.7,445.2 417.2,449.4 416.7,454.2 416.2,457.1 415.7,459.8 415.2,460.7 414.7,476.2 414.2,469.7 413.7,469.3 413.2,468.8 412.7,464.6 412.2,461.7 411.7,459.2 411.2,457.6 410.7,454.3 410.2,451.2 409.7,446.3 409.2,440.9 408.7,435.7 408.2,432.2 407.7,426.3 407.2,422.6 406.7,416.1 406.2,413.2 405.7,408.9 405.2,406.1 404.7,404.7 404.2,365.3 403.7,363.7 403.2,355.2 402.7,354.9 402.2,354.9 401.7,349.7 401.2,344.7 400.7,342.1 400.2,338.7 399.7,337.8 399.2,337.7 398.7,337.6 398.2,336.5 397.7,336.4 397.2,336.5 396.7,339.2 396.2,339.2 395.7,339.2 395.2,351.8 394.7,355 394.2,342.2 393.7,339.7 393.2,338.9 392.7,338 392.2,335.7 391.7,328 391.2,323 390.7,319.5 390.2,319.4 389.7,319.4 389.2,319.4 388.7,319.4 388.2,319.4 387.7,325 387.2,317.9 386.7,315.5 386.2,311.1 385.7,295.8 385.2,289.5 384.7,279.1 384.2,271.6 383.7,263.1 383.2,256.1 382.7,247.6 382.2,247.3 381.7,247.3 381.2,247.3 380.7,247.3 380.2,247.3 379.7,247.3 379.2,247.3 378.7,247.3 378.2,247.3 377.7,256.6 377.2,260 376.7,250.5 376.2,248.9 375.7,248.3 375.2,248.3 374.7,248.3 374.2,248.3 373.7,248.3 373.2,250.9 372.7,251.2 372.2,252.6 371.7,259.9 371.2,278.3 370.7,281.6 370.2,295 369.7,289 369.2,289 368.7,289 368.2,289 367.7,289 367.2,289 366.7,290.4 366.2,299.5 365.7,308.7 365.2,336.1 364.7,337.2 364.2,350 363.7,319.2 363.2,318.8 362.7,313.4 362.2,305.4 361.7,300.2 361.2,300.2 360.7,300.1 360.2,300.1 359.7,300.1 359.2,300.1 358.7,300.1 358.2,310 357.7,304.6 357.2,290 356.7,290 356.2,290 355.7,290 355.2,289.6 354.7,289.6 354.2,289.6 353.7,289.6 353.2,289.6 352.7,289.6 352.2,290.4 351.7,293.7 351.2,294 350.7,315.7 350.2,334.7 349.7,336.6 349.2,340.9 348.7,350 348.2,336 347.7,334.6 347.2,334.6 346.7,334.5 346.2,334.3 345.7,334.3 345.2,334.3 344.7,334.3 344.2,334.3 343.7,336.2 343.2,337.1 342.7,344.1 342.2,345.5 341.7,347.7 341.2,350 340.7,342.5 340.2,340.7 339.7,340.7 339.2,339.2 338.7,339.2 338.2,339.1 337.7,339.1 337.2,339.1 336.7,339.4 336.2,341.9 335.7,343.9 335.2,348 334.7,348 334.2,348 333.7,348 333.2,363.8 332.7,368.1 332.2,371.3 331.7,376 331.2,379.7 330.7,379.7 330.2,379.7 329.7,380.4 329.2,380.4 328.7,380.4 328.2,390 327.7,390 327.2,390 326.7,390 326.2,393.9 325.7,402.2 325.2,408.6 324.7,410.8 324.2,430.6 323.7,433.8 323.2,427.3 322.7,416.4 322.2,408.5 321.7,406 321.2,379.6 320.7,365.8 320.2,365.8 319.7,365.8 319.2,360.1 318.7,359.4 318.2,359.2 317.7,358.9 317.2,359 316.7,359.2 316.2,359.5 315.7,359.5 315.2,360 314.7,374 314.2,377.3 313.7,385.8 313.2,394.2 312.7,406.2 312.2,411.4 311.7,425 311.2,429.8 310.7,432.2 310.2,439.9 309.7,443.5 309.2,451.7 308.7,455 308.2,456.3 307.7,458.4 307.2,461.4 306.7,470 306.2,463.8 305.7,463.8 305.2,463.8 304.7,463.8 304.2,463.8 303.7,463.6 303.2,464.1 302.7,466 302.2,467.4 301.7,472.1 301.2,478.3 300.7,487.9 300.2,497.5 299.7,495.8 299.2,493.1 298.7,491.1 298.2,491.1 297.7,491.1 297.2,491.3 296.7,491.5 296.2,491.8 295.7,492.4 295.2,493 294.7,505.9 294.2,509.2 293.7,514.6 293.2,520 292.7,520.4 292.2,521 291.7,521.6 291.2,522.5 290.7,520.9 290.2,518.6 289.7,518.6 289.2,518.6 288.7,518.6 288.2,518.6 287.7,518.6 287.2,522.5 286.7,519 286.2,511.1 285.7,511.1 285.2,510.1 284.7,510 284.2,510 283.7,510 283.2,510 282.7,509.2 282.2,508 281.7,506.7 281.2,505.4 280.7,505 280.2,503.7 279.7,503.6 279.2,503.5 278.7,503.4 278.2,503.4 277.7,503.4 277.2,511.9 276.7,520 276.2,517.2 275.7,505.6 275.2,500.5 274.7,496.8 274.2,492.6 273.7,485.3 273.2,482.9 272.7,485.6 272.2,485.6 271.7,485.6 271.2,485.6 270.7,485.6 270.2,485.6 269.7,492.5 269.2,488.3 268.7,478.6 268.2,477.1 267.7,477.1 267.2,476.5 266.7,476.5 266.2,476.5 265.7,476.5 265.2,482.5 264.7,464.7 264.2,458 263.7,450.5 263.2,443 262.7,437.9 262.2,430.1 261.7,425.7 261.2,420 260.7,420 260.2,413.1 259.7,409.7 259.2,408.9 258.7,382.4 258.2,376.1 257.7,372.8 257.2,372.8 256.7,372.8 256.2,369.6 255.7,368.5 255.2,365.1 254.7,360.1 254.2,356.2 253.7,349.9 253.2,345.5 252.7,340.9 252.2,333.1 251.7,329.4 251.2,327.8 250.7,326.5 250.2,326.3 249.7,324.4 249.2,324.3 248.7,324.2 248.2,324 247.7,324 247.2,324.5 246.7,345 246.2,325.9 245.7,322.5 245.2,322.5 244.7,315.1 244.2,304.4 243.7,292.3 243.2,281.3 242.7,276.8 242.2,276.8 241.7,276.8 241.2,276.8 240.7,276.8 240.2,277.7 239.7,278.8 239.2,280.1 238.7,280.1 238.2,280.8 237.7,282.1 237.2,282.1 236.7,285.8 236.2,288.3 235.7,293.5 235.2,296.8 234.7,300 234.2,301.7 233.7,303.1 233.2,320.7 232.7,323.8 232.2,313.2 231.7,313.2 231.2,313.2 230.7,312.8 230.2,312 229.7,312 229.2,312 228.7,312 228.2,312 227.7,312 227.2,337.5 226.7,314.4 226.2,303.8 225.7,303.8 225.2,302.2 224.7,299.1 224.2,297.6 223.7,295.9 223.2,295.9 222.7,295.9 222.2,295.9 221.7,295.9 221.2,296.2 220.7,298.7 220.2,302 219.7,302 219.2,307.9 218.7,313.6 218.2,319.7 217.7,324.9 217.2,330.5 216.7,342.5 216.2,353 215.7,354.3 215.2,356.5 214.7,366.2 214.2,364.5 213.7,361.7 213.2,360 212.7,357 212.2,355.4 211.7,355.4 211.2,355.4 210.7,355.3 210.2,355.2 209.7,355.1 209.2,357.1 208.7,357.6 208.2,377.3 207.7,385.5 207.2,387.7 206.7,405.7 206.2,416 205.7,423.8 205.2,414.9 204.7,414.2 204.2,414.2 203.7,414.2 203.2,413.2 202.7,412.8 202.2,411.7 201.7,409.9 201.2,408 200.7,408 200.2,408 199.7,408 199.2,408 198.7,411.2 198.2,401.5 197.7,399.3 197.2,397.3 196.7,368.5 196.2,367.2 195.7,366.4 195.2,365.6 194.7,362.6 194.2,362.6 193.7,362.6 193.2,362.6 192.7,362.6 192.2,365.7 191.7,371.5 191.2,374.8 190.7,389.8 190.2,394.6 189.7,423.8 189.2,416.9 188.7,416.9 188.2,416.9 187.7,417 187.2,417.1 186.7,417.2 186.2,419.3 185.7,430.9 185.2,449.3 184.7,453.8 184.2,442.7 183.7,442.7 183.2,442.7 182.7,442.7 182.2,442.7 181.7,442.7 181.2,446.3 180.7,446.3 180.2,446.3 179.7,450.5 179.2,455.8 178.7,461.8 178.2,467.7 177.7,481.5 177.2,498.8 176.7,484.7 176.2,472.6 175.7,470.8 175.2,469.4 174.7,341.2 174.2,322 173.7,322 173.2,313.1 172.7,305.3 172.2,300 171.7,300 171.2,300 170.7,293.9 170.2,292.6 169.7,287.4 169.2,280.1 168.7,274.7 168.2,266.5 167.7,260 167.2,254.1 166.7,247.9 166.2,240.2 165.7,235 165.2,227.6 164.7,223.1 164.2,217.5 163.7,217.5 163.2,217.5 162.7,217.5 162.2,212.7 161.7,212 161.2,211.1 160.7,211 160.2,210.7 159.7,210.6 159.2,210.6 158.7,210.6 158.2,217.5 157.7,210.6 157.2,210.6 156.7,210.6 156.2,210.6 155.7,210.6 155.2,210.6 154.7,210.6 154.2,210.6 153.7,210.6 153.2,241.2 152.7,221.2 152.2,191.9 151.7,179.3 151.2,172.1 150.7,168.4 150.2,168.4 149.7,168.4 149.2,168.4 148.7,168.4 148.2,169.5 147.7,170.1 147.2,170.1 146.7,170.1 146.2,175 145.7,170.1 145.2,170.1 144.7,170.1 144.2,170.1 143.7,170.1 143.2,170.1 142.7,170.1 142.2,173.4 141.7,210 141.2,188.2 140.7,186.3 140.2,179.7 139.7,179.7 139.2,179.4 138.7,179 138.2,178" fill="#113a45" stroke="#113a45" stroke-width="3.4" stroke-linejoin="round"/>
<polyline class="series" points="138.2,131.2 138.2,135.2 139.1,140.1 139.2,146.4 139.2,152.1 139.2,157 140,162.5 140,165.8 140.1,173.2 140.1,175.8 140.6,183.1 140.6,185.9 141.5,189.4 141.5,195 141.5,199.1 141.5,206.4 141.5,210 141.5,205.5 141.5,200 141.5,194.2 141.5,189.9 141.8,186 141.8,181.8 141.8,176 142.3,172.7 142.3,167.5 142.3,162.5 142.3,158.9 142.9,151.7 143.6,146.1 143.6,142.5 143.6,147.2 144.5,150 144.5,155 144.5,160.6 145.6,165.3 146,169.3 146,175 146.1,170.3 146.1,164.8 146.9,161.6 146.9,155.6 146.9,150.7 147,145 147.8,142.2 148.6,135 148.6,131.2 150.5,131.2 150.5,136.6 150.5,140.6 150.5,144.1 150.5,151.2 151.5,155 151.5,159.2 151.5,166.5 151.5,170 151.8,176.7 152.4,181.7 152.4,185.1 152.4,191.9 152.8,194.3 152.8,199.7 152.8,205.7 152.8,209.9 152.8,215.6 152.8,221.2 153.1,226.7 153.1,231.5 153.1,234.5 153.1,241.2 153.4,237.3 153.4,232.5 153.4,226.2 153.4,222.2 153.4,215.2 153.4,210.7 153.4,205.4 153.4,200.9 153.4,196.8 153.4,193.7 154,187.5 154.7,180.8 154.7,176.1 155.5,171.2 157,175 157,178.4 157.9,186.2 157.9,189.1 157.9,192.5 157.9,197.8 158.3,202.1 158.3,209.7 158.3,211.5 158.3,217.5 158.3,210.7 158.4,208.9 159.2,202.8 159.2,196.4 159.2,192.8 159.2,187.6 159.2,180.5 159.9,178.1 159.9,171.2 161,175 161.7,180.8 161.8,185.3 161.8,189.2 161.8,192.2 161.8,197.8 161.8,204 162.6,207.9 162.7,214.5 162.7,217.5 163.2,212.6 163.2,207.8 163.2,203.3 163.5,200 164,206.4 164.6,209.9 164.6,216.1 164.6,220.6 165.5,226 165.5,230 166.5,230 167.1,234.9 167.1,241 167.1,246.1 168,249.6 168,256.6 168,260 168.9,263.8 169.5,270 169.5,273.7 170.6,281.1 170.6,286.2 171,290.6 171,295.2 171,300 171,293.7 171.8,291.4 171.8,287.8 171.8,283 172.3,276 172.3,272.5 174,275 174,279.3 174,285.3 174,289.7 174,296.5 174,299.8 174,305 174.3,311.5 174.3,316.5 174.3,320.1 174.5,323.3 174.5,328.9 174.5,336.1 174.5,339.9 175.3,345.2 175.3,350 175.3,355.1 175.3,361 175.3,365.2 175.3,369.2 175.5,375 175.5,380.9 175.7,384.8 175.7,390 175.7,395 175.7,401 175.7,405.7 175.7,412.5 175.7,417.6 175.8,420.7 175.8,428.5 175.8,430.9 175.8,437.5 175.8,442.4 175.8,446.8 175.8,453.4 176,459.4 176,463.8 176,466.9 176.6,474.9 176.6,480 176.6,483.4 177.1,489.8 177.1,493.4 177.1,498.8 177.1,493 177.1,487.8 177.5,481.5 177.5,477.8 177.5,472.3 178,467.7 178,462.5 178,459.2 178.9,454.2 178.9,446.7 178.9,443.5 178.9,436.2 179,434 179.9,426.6 179.9,422.5 181.5,425 181.5,421.5 181.6,415.7 181.6,408.4 181.8,404.7 181.8,401.6 181.8,396.1 181.8,391.3 181.8,386.3 181.8,380 183,382.5 183,387 183.3,394.2 183.3,396.4 183.5,401.9 183.5,406.7 183.5,412 183.5,417.4 184.3,422.5 184.3,427.2 184.3,431.7 184.3,436.8 184.7,443.8 184.7,448.6 184.7,453.8 185.4,447.5 185.4,443.7 185.4,440.2 185.4,434.1 185.5,430.9 185.5,425.5 185.8,419.8 185.8,413.9 185.8,408.2 185.8,405.5 185.8,398.5 185.8,396 186.9,390.5 186.9,384 186.9,380 188,377.5 188,382.5 188,387.6 188.1,394.6 189.5,398.2 189.5,404.9 189.5,407.9 189.5,413.1 189.5,418.7 189.5,423.8 189.5,418.7 189.5,412.7 189.5,408.1 189.5,401.6 189.8,397.3 190.4,393.3 190.8,388.6 190.9,384.3 190.9,377.2 191.6,371.5 191.6,368.1 191.6,362.5 191.6,358.7 192.1,353 192.1,348.6 192.1,342.6 192.1,337.5 192.1,333.7 192.7,328.7 192.7,323.9 192.7,318.2 192.7,312.5 194.5,312.5 194.5,315.8 194.5,322 194.5,328.7 195.4,333 195.5,337.5 196,342.7 196,344.9 196.8,352.1 196.8,356 197,358.9 197,365 197.6,369.2 197.6,374.4 198,379.3 198.2,387.2 198.2,390.2 198.2,396.5 198.9,401.4 198.9,404.5 198.9,411.2 198.9,405.6 200,401 200.1,395.2 200.1,391.4 200.8,387.5 202.8,390 203.4,395.5 203.7,398.9 203.8,404.4 204,407.9 205.1,413.1 205.5,420.5 205.5,423.8 205.5,418.9 206.2,416 206.2,408.7 206.2,406.4 206.5,400 206.5,395.6 206.5,390.7 207.9,384.6 207.9,381.3 208.1,377.3 208.1,373.3 208.1,365.5 208.1,362.5 208.1,357.5 208.1,351.8 208.1,346.9 208.1,343.7 208.1,338.4 209.3,331.1 209.5,328.3 209.6,321.7 209.6,317.5 211.2,320 211.2,324.6 212.5,330.3 212.5,334.7 212.5,338.4 212.5,346.2 212.5,350 212.8,357 213.4,360 214.5,366.2 214.8,360.3 214.8,358.3 216,353 216,348.6 216.7,342.5 216.7,337.5 216.8,330.9 217.1,327.3 217.3,323 217.3,315.9 218.1,311.2 218.1,307.5 218.5,303.2 219.5,300 219.5,295.9 220.8,289.1 220.8,284.3 220.8,279.6 220.8,275 220.8,268.8 220.8,266.5 221.6,259 222,255 222.9,251.8 222.9,243.7 222.9,238.5 222.9,233.5 222.9,229.1 223,225 224.5,225 224.9,231.4 225.4,234.7 225.4,240.1 225.5,245 225.5,249.3 225.5,253.9 226.5,258.3 226.5,264.9 226.5,268.3 226.5,273.3 226.5,278.9 226.7,285.2 226.7,287.1 226.7,294.4 226.8,298.5 226.8,301.6 226.8,309.8 226.8,314.4 227.1,317.1 227.1,321.7 227.1,328.4 227.2,333.4 227.2,337.5 227.2,333.6 227.2,328 227.2,323.9 227.2,319.6 227.2,312.5 227.2,307.4 227.3,304.2 227.3,297.1 227.3,294 227.3,287.9 227.6,282.3 227.6,279 228.4,274.8 228.4,269.4 228.4,263.7 228.7,260.5 228.7,253.1 228.7,250 230,245 230.7,250.6 231.5,255 231.5,259 231.9,266.4 231.9,268.1 231.9,274.4 232.2,278.5 232.5,285.3 232.5,288.3 232.9,293.6 232.9,298.3 232.9,305.1 232.9,310.7 232.9,312.8 232.9,318.6 232.9,323.8 233.2,320.7 233.2,313.9 233.2,311.2 233.5,303.1 234.5,300 234.5,294.6 235.7,291.4 235.7,286.8 236.2,279.4 236.2,276.6 236.4,268.3 236.4,265 236.9,260.1 236.9,255.4 236.9,249.7 237.2,246.5 238,242.5 240,240 241.3,234.9 242,232.5 243.2,235.8 243.2,242.4 243.7,245.4 243.7,250 243.7,254.9 243.9,261.5 243.9,264.5 245.4,268.3 245.4,275 245.4,281.1 245.6,283.3 245.6,288.4 246,294.1 246,301.4 246,304.2 246.3,310.4 246.3,315.8 246.3,319.2 246.3,325.9 246.5,330.5 246.7,333.3 246.7,339.9 246.7,345 246.9,341.8 246.9,334.4 246.9,330.5 247.2,324.5 247.2,321.7 247.2,317 247.2,310.5 247.2,305.8 247.4,300 247.4,297.6 247.4,290.3 247.4,287.2 247.4,283.9 248.1,279.1 248.1,272.5 249.5,275 249.5,278.1 249.5,284.3 250.5,288.7 250.5,293.3 250.8,298.8 251.2,304.1 251.2,307.5 251.5,310.7 252.1,315.9 252.1,320.8 252.4,324.8 252.4,329.5 252.5,335 252.5,340.5 253.6,342.7 254,347.5 256,347.5 256.1,353.8 256.6,355.5 257.5,361.6 258.1,364.1 258.1,370 258.1,375.5 258.9,380.2 258.9,382.4 259,387.5 259,391 260.1,397.1 260.2,401 260.2,405.9 260.2,411.7 260.7,413.9 260.7,420 262,420 262.5,425.4 262.5,429.5 262.5,433.9 263,440.4 263.8,445 264.2,448.6 264.2,453.8 264.6,457.9 264.6,462.7 265.1,468.6 265.1,471.7 265.1,478 265.1,482.5 265.4,476 265.4,473.2 265.4,466.7 265.4,464.1 265.6,457.7 265.9,452.2 267,449.3 267,442.5 267,445.6 267.9,449.8 268,455 268,461.1 268.2,465.5 268.4,470.4 268.7,472.5 268.7,478.6 269.4,484.6 269.4,488.3 269.5,492.5 269.6,487.9 269.6,482.4 270.4,480.1 270.4,473.9 271.5,471 271.5,463.3 271.5,460 272.5,456.5 272.5,448 273,444 273.2,439.6 273.3,432.8 273.3,428.8 273.7,432.9 273.7,440.3 274.2,443.1 274.2,449 274.2,454.1 274.2,458.8 274.7,466.3 274.7,470 274.7,475.2 275.4,478.3 275.7,483.6 275.7,490.2 275.7,494.3 275.7,500.3 275.8,505.6 276,509.8 276,515.4 276.5,520 276.7,514 277.4,511 277.4,503.8 277.4,498.6 277.4,494.8 277.4,489.8 277.9,483.3 278.3,478.5 278.7,476 278.7,470 280,472.5 280.3,475.5 280.5,481.2 281.6,484.9 281.6,492.6 281.7,496.6 281.7,500 281.7,506.7 283,510 283.4,506.6 284.5,498.8 284.7,496.6 284.7,489.5 285,485 285.7,488.5 286.2,493.6 286.3,497.8 286.3,505.3 286.3,507.6 286.5,512.5 286.5,516.7 287,522.5 287,519.6 288.1,514.9 288.1,510 288.1,504.6 289,500 289.6,504 290.5,509.2 290.5,514.9 290.5,519.8 291,522.5 293,520 293.5,514.6 294.1,509.2 294.8,505.3 294.8,501 294.8,495 294.8,488.8 295.4,483.4 295.7,479.1 295.7,476.7 295.7,470.6 295.7,463.2 296,460 297.5,455 297.5,458.5 298.3,464.2 298.4,470.6 298.4,472.9 299.2,476.9 299.2,482.8 299.2,487.5 299.2,493.1 300,497.5 300.3,491.7 300.5,487.9 300.5,484.8 300.5,477.2 300.5,474.2 301.6,470 301.6,463.4 301.6,460 301.6,454.2 301.6,450 302.2,445.3 303.1,441.8 303.1,438 303.1,432.1 303.5,427.5 305,430 305,434.1 305,441 305,445.2 306.5,448.7 306.5,455.4 306.5,460.5 306.9,463.8 306.9,470 306.9,464.3 307,461.4 308.5,455 309.4,450.8 309.4,446.2 310.1,439.9 310.1,435 311.2,429.8 311.5,425 311.5,418.6 311.5,413.3 311.8,410.9 312.7,406.2 312.7,400 313.1,394.2 313.1,389.8 313.8,385.1 313.8,380.5 314.6,374 314.6,370 314.7,363.3 314.7,359 314.7,356.6 314.7,350 314.7,344.4 315.1,339.4 315.1,336.5 315.1,330.7 315.1,325 317.5,320 319.5,325 320,331.4 320,335.6 320.5,340.3 320.5,344.6 320.7,347.7 320.7,353.6 320.7,359.3 321.2,362.5 321.2,365.5 321.2,373.4 321.2,375.3 321.2,379.6 321.7,386.4 321.8,391.5 321.8,395.6 321.8,400 321.8,406 322.6,411.1 322.6,415.8 323.4,420.9 323.4,423.1 323.4,427.3 323.5,433.8 324.3,430.1 324.3,425.3 324.4,418.5 324.4,413 325,408.6 325,404.6 325,400 325,393.9 325,390.4 325,383.7 325.8,379.2 325.8,374.4 325.8,368.4 325.8,364.5 325.8,359.1 325.8,352.1 325.8,346.4 325.8,341.5 325.8,337.5 327,340 327,343.9 327.7,351.7 327.7,355 327.7,361.1 327.7,365 327.7,371.2 327.7,376.6 327.7,379 328.3,385 328.3,390 328.3,385.5 328.3,381 329.6,376 329.8,369.5 330,365 330.7,359.6 332.4,353.5 332.5,350 333.7,343.3 333.7,339.1 334.7,335 334.7,331.4 335,325 335.2,319.9 336.4,315.9 337,310 338.8,312.5 339.6,317.7 339.6,321.3 339.6,327.8 340.3,332.1 340.3,335.7 341.1,340.9 341.1,345.2 341.2,350 342.5,344.1 342.5,339.3 343.5,336.2 343.8,330 343.8,324.1 343.8,320.1 344.4,314.9 344.4,310.3 345.5,307.6 345.5,303.8 345.5,297.5 347,300 347,304.6 348.2,311.1 348.2,314.8 348.2,320.5 348.2,323.9 348.2,328.3 348.2,336 348.8,340 348.9,344.9 348.9,350 348.9,345.4 349,340.9 350,334.7 350,330.9 350,324 350.2,321.4 350.5,315.7 350.8,310.6 350.8,304.8 350.8,300.5 350.8,294.7 351.4,290.8 351.4,284.1 351.4,280 351.5,274.8 352.3,269.7 352.8,266.5 352.8,260.6 353.9,254.6 353.9,250 355,246.1 356.2,238.8 356.2,244 356.2,250 357.4,254.1 357.4,259.4 357.4,265 357.4,269.8 357.7,274.5 357.7,281.1 357.7,285.2 357.7,290.6 357.7,296.5 357.7,298.2 357.7,304.6 358,310 358,304.6 358.2,300.5 358.2,293.9 358.2,290.5 359.6,284.6 359.6,280.5 359.6,273.3 359.6,270.3 359.9,264.7 359.9,259.3 359.9,255.7 359.9,249.4 360,243.8 362.5,245 363.1,251.1 363.1,254.3 363.1,258.7 363.4,264.5 363.5,269.2 363.5,274.1 363.5,278.9 363.5,285.8 363.5,289.1 363.5,294.9 363.5,300.5 363.6,304.5 364.2,311.3 364.2,316.2 364.3,321 364.3,326.2 364.3,328.3 364.3,336.6 364.3,339.1 364.3,343.7 364.3,350 364.3,346 364.3,338.7 365,336.1 365,331.4 365,326 365,321.4 365.3,316.2 365.3,310.7 365.3,305.9 365.3,301.4 365.3,294.2 365.3,288.7 365.4,283.4 365.4,278.7 365.6,275 365.8,271.3 365.8,266.2 365.8,260.2 366,255 368,260 368.6,266.2 368.6,269.7 369.7,273.5 369.7,280.5 369.7,285.4 370,291.6 370,295 370,291.7 370.3,284.9 371.1,278.3 371.1,275.5 371.1,271.3 371.1,264.9 371.1,261 371.1,254.8 371.1,250.2 372,244.3 372.2,239.7 372.2,234.2 372.2,231.7 372.2,225 372.4,221.3 372.4,214.9 372.4,211.1 372.9,207.1 372.9,202.2 373.7,196.8 373.7,191.2 373.7,186.1 373.7,182.5 375.5,182.5 376.4,187.7 376.4,193.2 376.5,197.4 376.5,202.3 376.5,207.1 376.5,210.5 376.5,216.3 376.7,219.8 376.7,224.4 376.9,232.4 376.9,235.3 377.2,241.7 377.2,244.6 377.2,250 377.2,254.9 377.2,260 377.6,256.6 377.6,250.2 377.6,243.6 378.9,240.3 379.4,234.8 379.4,230 379.4,225 379.6,222.3 380.5,216 380.5,210 380.5,205.7 380.5,200.4 380.5,197.5 382.5,197.5 382.5,202.9 382.5,208.6 382.5,213 382.5,214.7 383.7,220.2 383.9,224.7 383.9,231.5 384.2,236.6 384.2,240 384.6,243.5 384.6,250.8 384.6,256.6 384.6,261.7 385.2,263.2 385.2,270.5 385.7,273.5 385.7,280.8 385.7,285 385.7,291.3 386,293.4 386,300.3 386.4,305.6 386.4,311.1 386.8,315.5 387.5,319.7 387.5,325 387.5,321.3 388.8,316.6 388.8,310.2 388.8,308 389.1,302.7 389.1,297.3 390.1,293.4 390.1,287.5 391.5,290 391.9,294.3 391.9,301.4 391.9,305.7 392.5,311.4 393.1,314.2 393.1,319.1 393.1,325 393.1,330.3 394.1,336.4 394.1,341.2 394.6,346.3 394.6,349.2 394.6,355 395.3,351.3 395.3,346.9 395.3,339.2 395.3,337 395.3,332 396.2,325.4 396.2,322.2 396.2,315.8 396.2,312.9 396.6,307.1 396.6,302.5 398,305 398,311.1 399.8,314 400,320 402,320 402.3,326.4 403,330.1 403,335.3 403,338.9 403,345.7 403,350 403.2,355.2 403.6,360.1 403.6,363.4 405.5,369.5 405.5,375 405.5,380.5 405.5,383.8 405.5,389.4 405.5,393.3 405.5,400 405.5,406.3 406.5,409 406.5,412.6 407.1,417.7 407.1,422.5 409,425 410.2,431 410.4,436.7 410.4,438.3 410.4,443.9 411,450 411,452.6 412.1,459.7 412.5,462.5 413.1,468.7 414.6,470.1 414.6,476.2 414.9,470.6 414.9,467.5 414.9,460.8 415.8,457 416.1,449.8 416.1,445 416.2,438.8 417.3,436.8 417.3,428.3 417.3,424.5 418,421.5 418,415 420,417.5 420.9,420.5 421,427.4 421,433 421,434.6 421.7,442 421.7,445 424,442.5 424.5,437.1 424.6,434 424.6,427.7 424.6,422.3 425.1,417.7 425.1,412.9 425.9,407.7 426.2,403.6 426.2,400 426.2,396.5 426.2,391.6 427.6,386.4 427.6,379.8 427.6,375 427.6,371.5 428.8,365.5 428.8,360 428.9,363.6 430.1,368.3 430.1,372.5 432,375 432.4,378.7 432.4,383.4 432.9,390.2 432.9,396.3 432.9,399.7 432.9,404.2 433.9,409.4 433.9,415 433.9,421.5 433.9,426.7 434,430 434,426.4 434.6,419 434.6,414.2 434.6,408.9 434.6,406.8 435.7,401.5 435.7,394.2 435.8,388.4 435.8,384.3 436.2,378.3 436.2,375 437.5,373.8 438.3,378.4 438.3,382.3 438.8,389.3 438.8,394.1 439.4,398.5 439.4,403.3 439.4,410.7 439.7,413.8 439.7,420 441.5,422.5 441.5,416 442.1,412.5 442.1,406.4 442.5,403.2 443,397.8 443,390.9 443.2,387.2 443.2,382.5 445.5,381.2 447.5,382.5 448.1,385.9 448.4,391.9 448.6,398.8 448.6,400.8 449.1,407.4 449.1,412.5 449.3,416.3 449.3,423.1 449.3,425.4 449.3,431.6 449.3,436 449.3,440.7 449.3,446.1 449.5,450 450.2,456.3 450.2,460.8 450.2,465.9 450.2,471.3 451,475 451,480.1 451,483.3 451.4,489 451.4,493.6 451.4,501.1 451.4,505 451.4,498.5 451.8,493.9 451.8,490.4 452,485.1 452.4,478.6 453,475.8 453,470 455,468.8 455,472.6 455.5,479.2 455.5,483 455.8,488.3 456.4,496.1 456.5,500 456.5,495.3 457.4,488.8 457.8,486.6 457.8,479.7 458.4,475.1 458.4,470 460.5,468.8 462.5,470 462.5,476.6 463.3,479.4 463.3,484.4 463.3,491.7 463.9,496.5 463.9,500 464.3,506.3 464.3,510.1 465.1,516.6 465.1,519.7 465.1,524.5 465.1,530 465.5,533.2 465.7,539.5 465.7,543 467.4,550 467.4,553.8 468.1,549.5 468.2,545.6 468.7,537.7 468.7,533.8 469,529 469,525 469.6,521.5 470.2,514.1 470.5,510 472,510 472.3,514.8 473.3,519.2 473.3,525.5 473.3,530.3 474.1,535 474.1,540 475.5,542.5 475.5,547.4 476.2,551.2 476.2,556.2 476.3,562.2 477,567.5 477,571 477,576.4 478.7,581 478.7,585 479.1,580.5 479.1,575.8 479.9,570.2 480.5,565 481,570.1 481,574.5 481,580.6 481.6,586.1 481.6,590.5 482.5,596.2 483.7,590 483.7,585.6 483.7,582.1 484.5,575 484.5,571 484.5,563.4 486.1,559.8 486.1,554.6 486.1,550 486.2,545.8 486.2,539 487.7,535.9 487.7,529.4 487.7,525 487.7,520.6 488.3,516.3 489,510.1 489.1,505.9 489.1,500 490.5,495 491.3,499.9 491.7,505.8 492.2,508.7 492.5,513.2 492.6,520.3 492.6,525 492.7,521.7 493,514.7 493.5,511.3 493.5,504.6 493.5,499.8 493.9,494.3 493.9,490.2 493.9,484.4 494,480 495,476.7 495,470.6 495.5,466.2 497.5,472.5 497.5,476.5 497.5,482.2 498.3,485.2 499.1,490.8 499.2,497.3 499.7,499.8 499.7,507 499.7,508.6 499.7,515 499.8,510 500.7,506 500.7,501.8 500.7,495.1 500.9,489.6 500.9,485.3 500.9,481.6 501.2,475 501.8,480.1 501.8,484.5 501.8,490.2 502.3,496.4 503.2,500 503.2,505.4 503.7,509.4 503.7,516.1 503.7,519.3 504.4,526.2 504.4,530 504.4,523.6 504.9,520.7 504.9,516.8 505.2,509.7 505.2,504.2 505.2,500 505.2,493.9 505.4,490.4 505.4,486.8 505.5,480 506.7,483.4 507.5,490 507.8,496 508.2,500.7 508.2,504.3 510.1,510.3 510.1,515 510.6,519 510.7,525.5 510.7,530.9 511.4,537.3 511.8,540.3 511.8,544.6 512.8,549.5 512.8,554.9 513,561.2 513.4,557.2 513.9,551.9 513.9,543.8 514.8,539.8 515.1,534.7 515.1,530 515.1,533.7 515.3,540.5 516.6,543 516.9,547.6 517.5,552.5 517.5,549.2 518.1,544.8 518.1,538.9 518.1,532.1 519.5,530.3 519.5,525.8 519.8,519 519.8,515 519.9,521.7 520,526.6 520,529.6 520.9,534 520.9,541.4 520.9,546.1 521.2,550 521.2,544.1 521.7,539.4 523.1,535.1 523.1,529.7 523.1,526 523.2,520.1 523.2,518.1 523.9,511.3 524.5,507.5 527,510 527,513.7 527.3,517.3 528.5,522.9 528.5,528.7 529,532.5 529,527.3 530.4,522.4 530.4,520.6 530.5,515 531.3,518.8 531.3,525.8 531.3,531.7 531.3,536.6 532,540 532.5,543.4 532.8,547.4 533.7,552.3 533.8,557.5 534.8,562.3 534.8,565.6 534.8,570 535.4,574.1 535.4,580 535.4,575.2 535.4,571 535.5,565.6 536.1,559.3 536.1,553.5 536.1,551.3 536.4,545.6 537,540 538.8,537.5 538.8,542.4 538.9,546.9 538.9,550 539.1,555.3 539.1,561.7 539.3,565.3 540.6,571.3 540.6,575 541.4,571.3 541.4,564.2 542,560 542,565.6 542.8,569.5 542.8,575.6 543,580 543.7,584.1 544.3,589.5 544.3,593.9 544.3,601.5 545.1,605.8 545.1,610 545.1,612.5 545.1,615 545.1,619.7 546,625 546.1,630 546.2,635.1 547.5,641.2 548,634.8 548.7,631 548.8,624.6 548.8,620.9 549,615 549,608.2 550.1,606 550.1,598.4 550.1,595 551.5,600 552.4,605.4 552.4,609.1 552.4,616 552.4,621.5 553,625 554.1,627.3 555,632.5 555.7,627.7 556.2,624.9 556.2,617.9 556.5,615 557.8,609.7 558.3,605.7 558.3,600 559.5,602.5 560.1,608.4 560.1,611.7 560.1,617.3 560.1,621.3 561.2,624.6 561.2,629 561.2,636.4 561.2,640 561.3,645.2 562.5,650 564,645.5 564,639.1 564.5,635 564.5,639.5 565.3,643.9 565.7,648.7 566.5,655 567.4,651.2 567.4,645.3 568,641.7 568.5,637.5 569.7,641.5 569.7,647.9 569.7,651.2 569.8,656.6 570.5,660 571.3,666.5 572,671.2 572,666.6 572.5,660.7 573,656.8 573,649.6 573,644.1 573,640 573,634.1 573,630.5 573,623.2 573,619.4 573,613.2 573,607.5 573.9,605.1 573.9,599.8 573.9,594.1 573.9,588.8 574.5,590 574.5,594.6 574.8,598.2 575.2,602.2 576.1,609.1 576.1,614.8 576.1,617 576.1,622.5 576.1,626.2 576.1,633.5 577.3,636.8 577.3,643 577.7,649 577.7,653.5 577.7,657.5 578.3,653.7 578.3,646.9 578.6,642.7 578.6,638.8 578.6,635.1 578.6,627.5 578.8,624.9 579.4,620.5 579.4,615 580.5,610 581.5,616.6 581.5,620 581.5,624.3 581.8,628.5 582,635 582.6,628.8 582.6,626.7 582.6,618.3 583.1,613.9 583.5,610 584.7,603.2 585,600 586.1,596.3 586.5,589.7 586.5,585 586.6,581.4 587.5,576.4 588,572.5 589.5,575 589.7,569.8 590.8,566.2 591,560 591.5,560 593.5,555 594.7,548.8 594.7,544.8 595,540 597,540 597.5,534.5 597.5,528.5 597.8,524.9 598.5,520 600,520 601.1,526.5 601.2,531.7 601.6,535.4 601.6,538.4 601.6,545.4 601.6,550 601.6,545.3 602.6,539.9 602.6,534.3 602.6,531.4 602.6,523.9 602.8,519.8 602.8,515.6 602.8,510.3 603,505 603.5,499.7 604.5,493.8 605,488.8 605.1,493.2 606.5,500 607.3,505.1 607.3,511.1 607.3,513.2 607.3,518.7 607.3,524.7 607.3,529.7 607.3,534.3 607.3,537.7 607.3,542.6 607.3,550.3 607.5,554.7 607.5,558.8 608.2,552.5 608.8,549.9 608.8,545.4 608.8,538.1 609.4,534.7 609.4,528.3 609.6,523.1 609.6,519.4 609.6,515 609.6,510.6 610,504.9 611.4,500.6 611.5,496.2 613,500 613.9,505.4 614,510.2 614.3,516.3 614.3,520.9 614.3,525.9 614.4,531.2 614.4,534.5 614.5,540 615.1,546.6 615.3,548.4 615.3,553.6 615.4,561.1 615.5,565 615.5,571.5 616.4,574.1 616.4,579.8 617.3,585.3 617.3,590 617.3,593.3 617.3,600 617.3,606.1 617.8,610.2 619,615 619,620.3 619.2,623 620.3,629.1 620.3,634.7 620.9,636.5 620.9,641.6 620.9,647.5 620.9,644.2 621.5,636.5 621.5,634.7 621.7,628.5 621.7,623.1 622.4,619.3 622.4,615 622.9,610.6 622.9,604.9 622.9,602.1 623,594.3 623,591.2 624.5,592.5 624.5,596.7 624.7,602.3 624.7,606.2 624.7,611.8 625,614.5 625.3,622.8 625.3,624.5 626,629.7 626,635.3 626,640 626,635.2 626.8,631.6 628,623.3 628,620 629,625 629.5,631 630.4,636 630.4,640.5 630.5,645 630.6,648.6 631.8,655.1 632.4,658.8 632.4,662.5 632.4,658.9 632.9,653.4 633,648.2 633.1,643.8 633.1,639 633.5,635 633.5,631.9 633.9,624.9 633.9,619.6 634.1,614.4 634.1,612.2 634.7,605.8 635,601.2 636.5,602.5 636.8,606.5 636.8,610.3 636.8,615.9 637.7,621.4 638.2,625.4 638.4,630.9 638.4,634.2 638.4,640 638.5,637.4 638.5,632.2 639,628.2 639.5,622.5 639.5,626.8 641,630.4 641,633.9 641,640 641,643.9 642.1,648.4 642.1,653 642.5,658.8 643,655.4 643.4,648.2 643.8,646.2 643.9,638.2 644,635 644.8,631.4 644.8,623.7 644.8,620.1 645.7,615.5 646,609 646,605 646,601.2 646.5,595.3 646.9,590.3 647,586.2 649,586.2 649,590.6 649,596.1 649.8,600.3 650.5,605 650.9,599.1 650.9,593.2 652,590.2 652.4,583.4 652.4,580.8 652.4,575 652.4,568.5 652.4,563.7 653.2,558.5 653.2,555 653.6,549.7 653.6,545.3 653.6,540.6 653.6,534.4 653.6,529.1 653.6,525.9 653.6,519.3 653.6,515 654,511.7 654,504.2 654.5,500 655,497.2 655.5,491.2 657.5,495 657.5,498.2 658,505.6 658.7,509.5 659.4,514 659.4,518.5 659.4,525 659.4,518.7 660.5,515 662.5,512.5 662.5,517 663.2,520.4 664.2,525.5 664.2,529.3 664.2,535 664.6,531.5 664.6,523.3 664.9,519.1 665.4,515 665.4,509.4 665.4,504.9 665.4,500 665.4,496.6 665.4,491.2 665.4,486 665.4,482 665.4,476.1 665.4,472.5 666.3,466.6 666.3,460.4 666.3,456.3 666.3,450.6 666.3,447.3 666.3,443.8 666.3,437.4 666.3,433.6 666.3,427.5 667.5,430 668.3,434 668.3,440.8 668.3,443.9 668.3,450.7 668.3,454.8 668.3,458.8 668.4,465.1 668.4,470 668.4,474.4 669.2,477.1 669.3,484.8 669.3,486.1 669.3,494.4 669.3,497.5 671,495 671,491.5 671,485.8 671,478.8 671.7,473.5 671.7,471.5 671.9,466.4 672.5,458.3 672.5,456.1 672.5,448.3 672.5,444 672.5,440 672.5,433.7 672.5,432 672.5,426.8 672.5,420.5 672.5,415.4 672.5,411.5 672.5,406.8 672.9,399.7 673,396.2 675,396.2 675,401.1 676.1,405.4 676.1,412.5 676.3,416.6 676.3,419.4 676.3,423.9 676.3,430.4 676.3,435.4 676.3,438.4 676.5,445 677.1,440.6 677.1,435.2 677.6,431.7 678.2,425.8 678.2,419.3 678.2,415 678.2,421.7 678.4,424.6 678.7,428.7 680.1,433.2 680.1,440 680.1,436.5 680.1,430.4 680.1,424.1 680.1,418.6 681.2,416 681.5,408.4 681.5,405 683,407.5 683.6,411.5 683.7,417 683.7,423.1 683.7,427 684.7,430.8 684.7,437.1 684.7,440 684.7,435.5 685.4,429.6 685.6,424.6 685.6,420.4 686.1,414.4 686.1,410 688,412.5 688.5,417.2 688.5,422.1 688.5,427.7 689,431.6 689.3,435.3 689.5,440 691,445 691,439.1 692.2,435.8 692.2,431.2 692.4,425.5 692.4,422.9 692.4,417.6 692.5,412.5 693.8,408.9 694,402.5 695.5,405 696.3,408.4 696.3,416.2 696.5,418.6 696.5,424.1 696.5,429.5 696.9,435.1 696.9,440 696.9,443.2 696.9,451.2 697.4,454 697.4,460 697.8,462.4 697.8,467.9 697.8,472.1 697.8,477.2 698,482.5 698.2,476.4 698.2,474 698.3,468.2 699.5,465 701,460 701.6,454.2 701.6,449.1 702.1,443.5 702.1,441.3 702.1,434.7 702.5,430.4 702.5,423.4 702.5,419.5 702.5,415 704.5,415 705.2,418.9 705.2,424.8 705.9,428.4 705.9,433.9 706.7,437.1 707.1,443.6 707.1,447.5 707.1,443.6 707.1,437 707.9,433.6 707.9,429.5 708,425 710,430 711.1,435.9 711.1,440.3 711.1,444.9 711.5,450 712.4,454.7 712.4,461.4 712.4,465 712.7,471.2 713,475 713.5,470.9 713.5,463.3 714,460.2 714.3,456 714.3,449 714.3,446.1 714.5,440 716.5,437.5 716.5,440.6 717.5,446.9 717.5,451.9 717.9,455.8 717.9,461.1 718,465 718,470.1 719.2,475.7 719.2,478 719.2,484.2 719.2,490.6 719.2,492.8 719.2,497.5 719.7,503.4 719.7,507.7 719.7,512 719.7,517.5 721.5,515 722.3,511.1 722.4,504.1 722.4,498.4 722.4,494.5 722.4,490 722.5,484.5 722.5,480 723.2,473.9 723.5,470.2 723.5,464.3 723.5,459.7 723.5,454.4 723.5,451.1 723.5,445.8 724,440.3 724,436.6 724,431.4 724,424.8 724.1,418.4 724.1,415 724.8,408.5 724.8,403.8 725.2,400.2 725.2,395 725.2,390.6 725.2,384 725.7,378.7 726,373.9 726,368.5 726,365 727.5,365 728.2,371.3 728.2,375 728.2,380.6 728.5,382.6 728.5,389.3 728.5,394.5 728.5,397.1 729,402.1 729,407.5 729.5,401.3 730.5,396.9 730.7,391.2 730.7,387.5 732.5,387.5 733.2,394 733.2,395.3 733.2,402.2 733.2,406.6 733.2,411 733.9,415.6 734,419.2 734.4,423.9 734.4,430 735.1,427.4 735.5,421.3 735.5,416.3 735.5,412.5 736.3,417.1 736.9,420.2 736.9,427.6 737,431 737,434.1 737.5,440 737.5,436.9 738.7,430 739.2,424.8 739.2,423.7 739.2,417.5 740.5,420 740.5,426.6 741.2,428.4 741.2,434.8 741.2,440.9 741.2,446 741.4,448.4 742,455 742.8,448.5 743.4,446 744,440 744.4,444.6 744.4,449.5 744.4,454.7 744.4,459.2 744.8,463.2 745.6,467.1 745.6,474.6 745.6,479 746,482.5 746.9,477.7 746.9,471.7 747.2,467.1 747.2,463.9 747.2,458.9 747.2,454.5 747.3,449.2 747.5,445 747.5,439.7 747.7,433.7 748.2,431.3 749,425 749.5,422.2 749.5,418.3 750.5,412.5 752,412.5 752.3,418 752.7,422.2 752.7,426.9 752.7,429.7 753.5,435 753.5,439.1 754.1,443.3 755.1,447 755.1,452 755.1,457.5 755.8,462.7 756.7,464.3 757,470 757,475.4 758.6,478.3 758.6,485.7 758.6,490 759.4,494.4 759.8,499.9 760.4,503.2 760.4,510 761.1,514.7 761.1,518.5 761.1,525.8 761.7,528.7 761.7,533.7 762,540 762,534 762.7,531.7 764.4,526 764.4,520 765.5,520 767,525 767.3,530 768.1,536.5 768.4,540.5 768.4,545.5 768.5,550 769.5,556 769.5,560.8 769.5,563.8 770,570 771.5,565 772.6,570.6 772.6,573.7 773,581.6 773.4,585.9 773.4,590 773.6,596.1 773.6,599.8 773.6,606 773.7,609.3 773.7,615 774.1,619.7 774.3,622.8 774.6,629.8 774.6,634.6 774.6,636.8 774.6,642.5 774.7,637 775,634.8 775.6,629.5 775.6,625.2 776.3,620.2 776.3,615 777.3,611.2 777.3,605 779,606.2 779.1,609.5 779.8,617 779.8,620.9 780.6,626.5 780.6,630.2 780.6,635 780.6,638 781.8,643.5 781.8,648 782,652.5 782.1,655.8 782.5,662.5 783.3,664.9 783.5,670 783.5,674.2 784.9,679.8 785.3,686.1 785.5,690 785.6,694.4 787,697.5 787,693.7 787.2,686.7 788.9,682 788.9,677.5 790.5,680 790.5,686 791.2,690.6 791.2,693.7 792.3,698.4 792.6,701.8 792.6,707.5 792.9,701.7 792.9,696.5 792.9,695.4 793.3,690.3 793.3,684.1 794,680 796,682.5 796,677.7 797.4,672.5 797.4,669 797.5,662.5 799,665 800,670.6 800,675.4 800,681.6 800,685.6 800.5,690 801.2,694.6 801.5,700.6 802.7,705 802.7,710 803.4,708 804.5,702.5 804.5,708.1 805.6,711.5 805.6,716.5 806,720 807.2,724.6 808,727.5 808.7,721.3 808.7,717.2 809.7,715.4 809.7,709.8 809.7,705 809.8,698.4 809.8,695.9 810.4,689.2 810.8,684.2 810.8,680 810.9,674.7 812,670.5 812,665.6 812,661.7 812,655 813,651.1 813,644.6 814,641.2 815.5,642.5 816,648 816.8,650.7 816.8,655.7 817,660 818.2,663.8 818.4,668.8 818.5,675 820.5,680 822.5,685 823.2,688.4 824.5,695 825.1,699.6 826.5,705 828,700 829.5,706.7 829.5,709.3 830,715 831.3,717.7 832,722.5 832.1,717.9 832.1,712.9 832.9,709 833.5,705 835.1,699.8 835.1,696.2 837,700 839,695 839,701.5 840,705 840.4,701.2 841.2,696 841.2,688.7 842,685 843.5,689.9 844,695 844.8,690.6 845.8,684.2 846,680 847.5,685 847.5,681.5 848.1,674.2 848.5,669.1 849,663.3 849.3,660.2 849.3,655 849.3,651.6 850,645 850.2,649.1 850.6,655.2 852,660 853.2,655.6 853.5,650 854.1,646.1 855,640 855,634.3 856,631.7 856.4,625.7 856.5,620 857.7,614.6 858,610 859.3,615.2 859.3,618.4 860.1,622.6 860.1,627.5 860.1,624.3 860.7,618.6 861.2,615.4 861.2,608.9 861.5,605 861.5,599.7 862.5,596.3 863,590 863.6,585.3 863.6,580.3 863.6,576.2 864.7,571.2 864.7,565 866.5,562.5 866.5,567.7 867.5,571.7 868,577.7 868,582 868,586.8 868,590 868,585.7 868.7,580.4 868.7,573.4 868.8,571.2 868.8,564 868.8,558.5 869,555 869.4,551.7 869.8,544.5 869.8,538.5 870.1,534.4 870.1,530.5 870.1,524.2 870.1,519.8 870.1,515 870.3,511.1 870.3,506.2 870.3,499 871,494.4 871,490 871.1,484.9 871.2,480.5 871.6,475.3 872.5,468.8 873.8,474.5 874,480 874,486 874,490 875,493.4 875.5,500 876.2,505.8 876.7,509.6 877,515 877.4,520.3 877.4,526.3 879.1,531.1 879.4,534.4 879.4,540 880.5,543.5 880.5,548.7 881,555 881.2,550.7 881.9,544.8 881.9,538.9 881.9,534.2 881.9,530.8 882.5,525 884.5,525 885,529.8 885,535.7 886,540 886,544.2 887.1,550.7 887.5,555 888.6,550.9 888.8,546.5 888.8,540.8 888.8,533.9 888.8,531.3 889,525 889.5,520.5 889.5,514.5 889.5,510.5 890.5,504.3 890.5,498.8 890.5,496.4 890.6,489.8 890.6,483.6 890.6,481 890.6,476.8 891.4,471.1 891.4,465 891.4,461.2 891.4,453.6 891.4,450 891.4,444.1 891.4,441.5 891.5,436.6 892,429.8 892,424.6 892,421.2 892,413.2 892,410.3 892,403.2 892,401 892,393.4 892.3,390.1 892.3,384.4 892.3,381.4 892.3,375.5 892.3,369.1 892.3,365 892.6,359.6 892.6,355.3 892.6,348.9 892.6,345.3 892.6,340.7 892.6,333.4 892.6,328.4 892.6,324.6 892.6,320.8 892.6,315.5 892.7,309.9 892.7,306.5 892.7,298.4 892.7,296.8 892.7,289.6 893.1,286.2 893.1,280.9 893.1,273.5 893.6,271.1 893.6,265 894,265 894,268.2 894,276.3 894,280.2 895,284.9 895,288.5 895,292.4 895,297.6 895.2,304.6 895.2,309.9 895.2,313.7 895.2,319.5 895.2,324.8 895.2,329.5 895.2,334.2 895.2,338.3 895.2,343.9 895.2,346 895.2,352.5 895.2,356.6 895.2,360.4 895.4,365.4 895.5,373.1 895.5,375.4 895.5,380.6 895.5,385.1 896,391.6 896,394.8 896,402.4 896,404.5 896,410.1 896,414.4 896,422.3 896,423.6 896,428.9 896,435.5 896,440 896,444.8 896,450.4 896,456.5 896.2,461.1 896.6,466.2 896.6,468.3 896.6,476.3 896.6,481.4 896.6,486.6 896.6,490.7 896.6,494.3 896.6,499.4 896.6,504.8 897.3,510.6 897.3,515 897.4,521 897.4,527 897.4,529.5 897.4,535.1 897.4,539.5 897.8,547.1 897.8,551.6 897.8,557.1 897.9,560.9 897.9,567.1 897.9,571.5 897.9,576.2 897.9,581.2 898.7,574.9 898.7,571.6 898.7,567.6 898.7,562.4 898.7,557.5 898.7,549.8 898.7,547.2 898.7,539.8 898.8,537.4 898.8,530.3 898.9,526.2 899,521.3 899,514.5 899,511 899,504.3 899.7,500.6 899.7,495.6 899.7,490 899.7,486 899.7,479.1 899.7,474.2 899.7,470 899.7,466.5 900.6,462.6 900.6,458.2 900.6,452.5 900.6,446.1 900.6,442.2 901.5,437.5 903,440 903.4,444.8 903.6,448.5 904.1,454.4 904.1,458.3 904.1,464 904.2,471.1 904.2,474.2 904.2,478.9 904.6,483.8 904.6,490 904.6,495 904.6,498.3 904.6,502.7 905.3,508.5 905.3,513.9 905.3,516.8 905.3,524.3 905.3,529.4 905.3,532.5 905.3,528.6 905.3,524.1 905.3,517.9 905.7,512.2 905.7,510 905.7,503.7 906.6,498.5 906.6,493.7 906.6,490 906.6,484.5 907.1,479.9 907.6,473.4 907.6,471.2 907.6,463.3 907.6,458.6 907.6,455.8 907.6,448.6 907.8,443.8 908,440 908,434.8 908,428.4 908.7,424.9 910,420.2 910,415 910,408.9 910.2,405 910.5,401.4 910.6,393.2 910.9,389.6 910.9,383.2 911,378.3 911,373.4 911.4,369 911.4,362.5 911.4,358.2 911.4,353.8 913,353.8 913,359.6 913,362.8 914.3,369.2 914.3,372.7 914.3,379.7 914.3,384.7 914.3,390 914.5,395.1 914.5,400 914.5,405.5 914.5,411.1 915.4,415.9 915.4,419.5 915.5,423.9 915.5,430.4 915.5,435 915.9,428.5 915.9,423.3 915.9,418.7 915.9,415.9 915.9,411.6 915.9,405.6 915.9,401.6 915.9,394.9 916.4,391.6 916.5,385 918.5,387.5 918.7,393.9 919.2,395.6 919.9,400.2 920.4,405.7 920.4,412.1 920.4,415 920.4,419.7 920.4,425.6 920.4,429.5 920.4,436.2 920.4,440.4 921.5,445 921.5,449.8 922.2,455.8 922.2,459.1 922.2,466.7 923,470 923,463.7 923.5,460.3 924.4,453.4 924.4,448.8 924.4,444.8 924.5,440 924.6,436.4 925.3,431.3 926.1,424.2 926.3,419.7 926.3,416.5 926.3,410 927.5,410 927.5,413.3 927.5,419.2 928.8,426.3 928.8,430.1 928.8,436.1 928.8,440 928.8,445 928.8,439.1 929,435.3 929.3,431.4 929.7,423.9 929.7,421.4 929.7,413.9 929.7,409.1 929.7,404.5 929.7,400.6 929.7,395.9 929.7,390 930.7,384.3 931.5,378.8 933.5,376.2 935.5,377.5 936,383.3 936,386.8 936.4,392.3 936.5,395.1 937.3,402 937.3,405.4 937.6,409.3 937.6,415 937.6,412.2 938.3,405 938.3,401 938.5,398 938.5,392.5 938.6,395.3 940,400 940,404.2 940,408.7 940.6,414.7 940.6,420.3 942,425.3 942,430 942,435.7 942,438.8 942.4,443.3 943,448.8 943,455 943.1,461.7 944.1,466.2 944.2,470.5 944.6,476.7 944.6,480 946,485 946.2,481 947.5,475 947.6,479.1 949.1,485.4 949.1,490 949.8,496.4 949.8,498.9 949.8,505.1 949.9,509.2 949.9,513.2 949.9,520.7 949.9,524 950,530 950,535.5 951.2,537.7 951.2,545.7 951.5,547.6 951.5,553.7 951.5,558 951.5,562.2 951.5,566.3 951.5,572.5 951.5,566.7 952.5,564.5 952.5,560.4 953,555 954.5,557.5 955.1,552.3 955.1,547.2 955.8,544 955.8,537.9 955.8,534.2 955.8,530 956.3,524 956.8,521.1 956.8,515.3 957,510 957,505.7 957.9,501 957.9,493.5 958,490.2 958,483.9 958.1,478.6 958.4,474.1 958.4,469.7 958.5,465 958.7,460.8 958.7,455.8 958.7,449.2 959.3,445.7 959.4,441.4 959.4,434.3 959.5,430 960,424.6 960,420 960.6,417.7 960.7,413.7 960.7,407.5 962.5,407.5 963.2,411.5 963.2,417.6 963.2,421.8 963.2,424.4 963.6,429.5 964.6,436.7 964.6,440 964.6,434.3 964.6,430.9 964.8,425.8 965.4,421.8 965.7,415.7 965.7,412.5 967,412.5 967,416.8 967.3,421.1 967.8,425.7 967.8,431.4 968.1,437.2 968.1,440.8 968.8,447.3 968.8,449.1 968.8,455.7 968.8,460 968.8,453.3 970,451.5 970,444.9 970,439.3 970,435 972,440 972,445.9 973.1,449.8 973.1,454.6 973.1,461.7 973.5,465 973.5,469.2 975,475 975.7,468.7 975.7,463.5 975.7,460.1 976.5,453.8 976.5,451 976.5,444.4 976.5,440 978,433.8 979.5,435 979.5,439.1 980.8,443.6 980.8,450.9 980.8,455 981.3,461.5 981.3,466.6 981.3,469.2 981.3,475.8 981.6,478.7 981.6,486.6 981.6,490 981.6,496.1 981.6,499.1 981.6,504.9 982.4,508.7 982.4,514.4 982.4,520.9 982.4,523.9 982.4,530 982.4,536.2 982.4,540.3 982.4,545.9 982.4,551.4 982.4,555 983,559.4 983,566.1 983,569.5 983,574.5 983,578.6 983,585 983,591.5 983.1,595.5 984,600.9 984,606.5 984.1,611.8 984.1,615.9 984.3,619.1 984.3,624.6 984.3,630 984.7,633.5 984.7,639 984.8,643.8 985,650.4 985.1,652.7 985.3,659.6 985.3,664.1 985.3,669.7 985.3,673 985.3,678.9 985.4,684 985.4,687.5 985.4,682.1 985.4,676.4 985.4,671.2 985.9,667.1 985.9,661.7 986,657.3 986,653.2 986.3,650.3 986.3,644.3 986.6,638.9 986.7,635 986.7,630.6 986.7,623 986.7,620.7 986.7,614.6 986.7,611.2 986.7,605 986.9,599.3 986.9,595.1 987.7,591.6 987.7,587.7 987.7,581.9 987.7,577.7 987.7,570.7 987.7,567.5 989,567.5 989.1,573.4 989.7,576.5 989.7,582.6 989.9,585.5 990.2,593 990.2,595.6 990.2,602.3 990.2,604.8 990.2,611.1 990.2,615 990.2,620.2 990.4,625.6 990.4,631.6 991.6,635.2 991.6,638.9 991.9,645.2 991.9,651.3 991.9,655 991.9,661.5 991.9,663.3 992.6,671.4 993,675 993.9,671.6 993.9,666.6 993.9,658.7 993.9,656.1 993.9,650.4 993.9,644.2 993.9,640 994,633.5 994,629.4 994.8,625.9 994.8,620 996.5,622.5 996.5,626.3 996.9,630.7 997.2,638 997.2,641.6 997.8,646.8 998,651.4 998,656.5 998,660 998.9,653.4 999.1,649.8 999.1,643.5 999.1,640.6 999.1,634.9 999.1,631.8 999.1,626 999.1,618.9 999.1,614.7 999.6,609.3 999.6,605 999.6,599 999.6,593.9 1000.5,590 1002,590 1002,595 1002,599.9 1002.4,606.7 1002.6,611.6 1002.8,613.9 1003,620 1003.4,623.7 1003.4,628.5 1004.1,636.7 1004.1,640 1004.1,644.5 1004.2,649.5 1004.8,654.6 1004.8,661.3 1005,663.2 1005,670 1005.8,675.8 1005.8,680.5 1006.2,684.6 1006.2,689.3 1006.2,695.6 1006.3,701.6 1006.3,705 1006.3,709.5 1007,716 1007,720.6 1007,726.6 1007,730 1007.3,734.2 1007.3,737.8 1008.2,744.8 1008.2,747.7 1008.2,752.9 1008.2,757.5 1008.2,754.2 1008.2,748.2 1009.5,743.9 1009.5,738.1 1009.5,734.5 1010,728.5 1010,724.3 1010,720 1010.1,726.5 1010.7,729.2 1010.7,736.2 1010.7,740.7 1010.8,743.9 1012,750 1012,746.1 1012,739 1012,734.1 1013.4,730.8 1014,726.6 1014,720 1014,716.5 1014,711.5 1014,703.9 1014.5,701.3 1014.5,693.5 1015,690.9 1015,685 1015,681.7 1015,673.4 1015,668.3 1016,665 1017.5,665 1018.1,670.5 1018.1,673.8 1018.1,680.4 1018.6,686.7 1018.6,691.7 1018.6,694.6 1018.6,699 1019,705 1020.2,701.8 1020.2,693.8 1020.2,688.7 1020.2,685.9 1020.5,680 1020.5,684.9 1021.1,687.8 1021.1,695.3 1021.2,698.8 1021.9,704.1 1021.9,708.1 1022.3,714.5 1022.4,718.2 1022.4,721.6 1022.4,727.5 1022.4,723.7 1022.4,719.6 1023.4,714.1 1023.4,710.6 1023.5,705 1023.7,700.6 1024.4,695.8 1024.5,691.7 1025,685 1026.1,681.5 1026.1,674.3 1026.1,669.2 1026.7,666.1 1026.8,661.2 1026.8,655 1027.8,651.3 1027.8,647.2 1027.8,642.3 1028,637.5 1028,643.2 1028.7,645.4 1029.9,649.1 1029.9,655 1030.6,650.9 1030.6,645.9 1030.6,641.5 1030.9,634.7 1031,630 1032.5,630 1033.4,633.5 1033.4,638.6 1033.4,643.6 1033.8,649.8 1033.8,654.1 1033.8,660.5 1033.8,665 1034.1,669 1034.1,674.2 1034.1,680 1034.3,686.5 1035.8,691.8 1035.8,695 1036.1,700.3 1037,705 1037.7,700.9 1037.7,696.3 1037.7,691.6 1037.7,683.6 1038.2,678.7 1038.2,673.4 1038.9,670.1 1038.9,663.7 1038.9,659.6 1038.9,655 1038.9,651.1 1038.9,644.9 1038.9,641.3 1040.1,633.3 1040.1,629.9 1040.2,625.8 1040.2,620 1040.2,616.6 1040.2,608.7 1041.1,603.6 1041.1,600 1041.1,593.8 1041.9,589.9 1041.9,584.1 1041.9,580 1042.5,574 1042.8,570.4 1043.2,566 1043.2,560.1 1043.2,555 1043.9,549.8 1043.9,546.5 1044.5,540.7 1044.6,534 1044.6,530 1044.9,526.2 1046.3,521.5 1046.3,515 1046.3,520.7 1047.1,524.7 1047.5,530 1047.5,533.7 1048.4,540 1049,545 1050.5,540 1050.5,544.5 1051.3,550.9 1051.8,553.8 1052,560 1052.9,554.5 1053.2,551.7 1053.2,545.3 1053.5,539.6 1053.5,534.3 1053.5,528.9 1053.5,524.2 1053.6,520.2 1053.6,515 1054.6,510.7 1054.6,506.6 1054.6,500.2 1055.4,495.6 1055.4,490 1057,491.2 1057.4,496.2 1058,502.1 1059,505 1059,511.7 1059,513.2 1059.4,518.9 1059.4,523.6 1060.1,530.6 1060.1,536.5 1060.5,540.6 1060.5,543.2 1060.5,549.7 1060.8,554.3 1060.8,560 1060.8,553.2 1060.8,551.4 1061.7,546.2 1062,540 1062,543.1 1062.8,549.5 1064,552.5 1064,558.6 1064.1,563 1064.8,565.6 1065.8,570.5 1065.8,573.9 1065.8,580 1066.5,586.1 1066.5,589.6 1066.5,591.9 1067,597.5 1067.9,601.8 1069,605 1070.2,611.3 1070.7,614.4 1070.7,617.3 1071,623.2 1071,627.5 1071.1,624.6 1071.3,617.5 1071.5,613.1 1072.5,610 1073.4,616.1 1074,620 1074,625 1074.6,630.2 1074.6,635.2 1074.6,638.4 1074.9,644.1 1075.7,649.1 1075.7,655 1076.5,659.1 1076.5,664.9 1076.5,669.4 1077,675 1078.2,679 1078.5,685 1079,681.2 1079,675 1079.8,670.4 1079.8,663.5 1079.8,659.4 1079.8,655.5 1079.8,649.3 1080,645 1080.3,651.6 1080.3,653.8 1080.4,659.4 1081.7,665.7 1081.7,668.8 1081.7,675 1081.7,678 1082.9,684.3 1082.9,688.6 1083,692.5 1083,688.4 1083.7,682.7 1084.5,680 1085.6,685.8 1085.9,688.8 1086.5,695 1087.1,699.8 1087.4,703.5 1088.1,708.2 1088.1,714.6 1088.1,720 1088.1,723.5 1088.9,731.8 1088.9,734.2 1089.5,739 1089.5,745 1089.5,750.7 1089.5,753.8 1089.5,760 1089.5,765.5 1091.1,772.1 1091.1,775.9 1091.1,781.2 1091.5,774.7 1092.3,770.4 1092.5,765 1093.2,759.3 1093.5,756.1 1093.5,748.7 1093.5,743.7 1093.5,740.7 1093.5,736.7 1093.5,730.8 1093.5,725 1095,723.8 1095.8,727.6 1095.8,732.5 1095.8,740.1 1095.8,745.2 1095.8,750.4 1095.9,756.5 1096.5,760 1098,755 1098.6,748.2 1099.5,745 1099.5,740.8 1100.5,735.5 1100.5,731.3 1100.6,723.6 1100.6,720.6 1100.6,715 1100.6,708.4 1100.8,706.3 1102.3,699.3 1102.4,696 1102.4,690 1103.2,685.3 1103.8,680.5 1103.8,675 1104.8,671.1 1104.8,666.7 1105,662.5 1105.7,665.7 1106.5,670 1106.5,675 1106.9,679 1106.9,685 1107.1,689.7 1107.5,693.9 1107.5,699.2 1107.5,705 1108.2,710.7 1108.4,715.1 1108.4,721.5 1108.4,724.6 1108.5,730 1109.5,730 1109.5,725 1110.3,721.9 1110.3,716.9 1110.3,711.3 1110.3,706.1 1110.5,703.1 1111,697.5 1112.5,697.5 1113.2,700.9 1113.2,707.5 1113.7,711.6 1113.9,716.2 1114,720 1114.1,714.3 1114.7,710 1115.5,707.5 1117.5,710 1118.8,715.1 1118.8,721.7 1119,725 1120.5,730 1121.8,734 1122,740 1122.5,743.6 1123.5,750 1124.2,755.5 1124.2,758.8 1124.2,763.9 1124.5,770 1124.8,774.5 1124.8,777.6 1124.8,782.5 1126,782.5 1126,779.2 1126.2,771.3 1126.7,769 1127.5,762.5 1129.5,760 1131,760 1132,764.4 1132.4,771.4 1132.4,773.9 1132.5,780 1133.7,784.5 1134,790 1134,796.5 1134.6,799.6 1135.3,804.1 1135.5,810 1135.5,814.2 1135.6,817.4 1135.8,824.7 1135.9,829 1136.6,831.8 1136.6,837.5 1138.5,837.5 1138.5,833.6 1139.1,827.8 1139.1,825.3 1140,818.5 1140,815 1140.3,819.4 1140.5,821.7 1141.5,827.5 1141.7,823.9 1142.7,819.2 1143,815 1143,809.8 1143.7,806.4 1144.5,802.5 1144.8,799.8 1144.8,795.9 1146,790 1146,786.3 1146,780.3 1146.5,773.3 1147,770 1147.7,766.1 1147.7,761 1147.7,756.8 1147.7,749.6 1147.7,745.4 1148,740 1148.8,736.2 1148.8,729.6 1149.4,723.6 1149.4,720.9 1149.5,715 1150.1,711.2 1151,703.8 1153,705 1153,709.9 1153,713.2 1153,718.5 1153.4,724.8 1153.8,729.2 1154,735 1154.7,730.1 1155.6,723.8 1155.6,720 1155.6,715 1156.3,721.3 1157.5,725 1159.5,730 1159.5,736.4 1160.2,739.4 1161,745 1161.6,749.6 1161.6,752.3 1162.9,757.7 1162.9,762.5 1162.9,759.3 1164,755 1164.6,759.4 1164.7,766.2 1165.5,770 1165.6,774.7 1167.1,779.5 1167.1,783.8 1167.1,790 1167.5,785.6 1167.5,779.7 1167.5,776 1167.8,771.2 1167.8,765.8 1167.8,759 1168.5,755 1171,757.5 1172.2,762.5 1172.2,766.2 1172.2,769.5 1172.5,775 1172.5,779.9 1173.6,782.9 1173.9,786.8 1174,792.5 1174.5,786.8 1174.6,782.8 1175,777.7 1175.2,774.9 1175.5,770 1177.5,767.5 1179.5,772.5 1179.5,776.3 1180.4,781.7 1180.6,787 1180.8,789.5 1181,795 1181.3,800.9 1181.9,805.3 1181.9,808.9 1182.5,813.8 1184.1,810.6 1184.1,805 1184.7,798.6 1185,793.3 1185.9,791.7 1185.9,785 1186.2,779 1186.6,773.4 1186.8,769.5 1186.8,765.6 1186.8,760.2 1187,753.8 1188.5,755 1189.1,760.1 1189.8,763.9 1190.1,769.4 1190.1,774.4 1190.1,780 1190.1,783 1190.8,787.6 1190.8,792.8 1190.8,799.5 1191.5,802.5 1192.6,799.5 1193.1,793.5 1193.2,788.6 1193.2,785 1194.4,782 1194.8,775.7 1195,772.5 1197,775 1197,781.1 1197.6,784.6 1198.4,787.5 1198.4,793.2 1198.8,797.8 1198.8,802.5 1198.8,800 1199.1,795 1200,790 1202,787.5 1203,791.9 1203.1,797.8 1203.1,802.5 1203.5,808.8 1205.1,803.9 1205.1,800 1205.4,795 1205.4,790.9 1206.6,786.4 1206.6,780 1206.7,774 1207.2,770.8 1208,765 1210,767.5 1210.8,771.3 1211,774.6 1211.5,780 1212.4,784.9 1212.4,791 1212.4,795.8 1212.4,801.1 1212.4,804.2 1212.5,810 1213.2,814.9 1213.3,820.3 1214,825 1216,825 1216.2,819.8 1217.5,815 1220,817.5 1220,823.6 1220.3,828.7 1221.2,832.9 1221.5,837.5 1222.1,831.8 1222.7,828 1223.3,825.4 1223.3,820 1225,820 1225.7,826.1 1225.7,830.6 1226.9,833.9 1226.9,840 1226.9,844.7 1227.5,848.7 1228,855 1228.5,851.3 1230,845 1231.5,850 1231.5,853.7 1231.5,860.3 1231.7,864.9 1232.6,869.8 1232.8,876.2 1233,880 1233,886.5 1233,888.3 1233.9,895.3 1233.9,899 1234.1,904.3 1234.2,909 1234.2,915.5 1234.2,920 1234.3,914.9 1234.3,910.5 1235.5,905 1236.1,898.8 1236.2,895.8 1236.2,891.2 1237.4,883.4 1237.4,880 1237.8,874.8 1239,872.5 1239.1,866 1240,861.6 1240.5,857.5 1240.5,861.9 1241.1,867.5 1242.1,869.6 1242.1,873.7 1242.5,880 1242.6,873.6 1243.6,871 1244.5,864 1244.5,860 1244.5,855.9 1245.5,850 1245.8,856.6 1246.3,859.3 1247,865 1247,871.6 1247.5,874.8 1247.6,881 1248.6,884.9 1248.6,889.7 1248.6,895 1249.5,899.7 1249.5,905.2 1249.5,910.3 1249.5,915.2 1250.4,918.5 1250.4,925 1250.4,931.2 1251.1,932.9 1251.1,940 1251.1,944.3 1251.1,948.5 1251.1,954.9 1251.1,959.5 1251.1,963.8 1251.4,959.5 1251.4,953.9 1251.4,949.7 1251.4,943.1 1252,938.9 1252.4,934.1 1252.4,930 1252.4,926.1 1252.4,920.8 1252.4,916.6 1252.4,910.8 1252.4,903.8 1252.4,900 1252.4,893.6 1252.4,889.3 1253.2,884.6 1253.2,879 1253.2,874.4 1253.2,871.2 1253.2,865.9 1253.2,860 1253.2,863.2 1253.2,869.1 1253.8,872.9 1253.8,879.5 1253.8,882 1253.8,887.6 1254,892.5 1255,898.6 1255,902 1255,904.8 1255,912.6 1255,916 1255.7,918.8 1255.7,925 1256.6,918.6 1256.6,915.8 1256.6,909.6 1257,905 1257,899.7 1257,893.3 1257.3,887.9 1257.3,883.1 1258.3,877.7 1258.5,873.8 1259.5,878.8 1259.5,883.5 1260.2,888.1 1260.2,895 1260.8,898.6 1261.6,904.7 1261.6,911.3 1261.6,915 1261.6,918.4 1262.8,925.3 1263,930 1263.7,924.2 1263.7,918.9 1263.8,914.2 1264.4,909.3 1264.5,905 1264.6,900.1 1264.8,895.3 1266,888.8 1266.5,893.2 1266.5,899.6 1267.5,905 1268.3,900.8 1269,895 1269.3,889.7 1270.7,884.2 1270.7,880 1271.9,876.4 1272.4,871.6 1272.4,865 1272.4,862 1273.2,855.6 1273.5,852.5 1275.1,849.3 1275.1,845 1276.1,840.2 1276.1,836.3 1276.5,830 1276.5,824.1 1277.4,818.9 1277.5,815 1277.9,810.8 1277.9,805.6 1279,800 1279,794.9 1279.5,790.7 1279.5,783.9 1280.3,779.6 1280.3,774.5 1280.3,770.9 1280.3,764.6 1280.3,760.1 1280.3,755 1280.3,751.6 1281.1,746 1281.3,739.9 1281.3,734.1 1281.3,730.8 1281.6,726.2 1281.6,720 1281.9,714.2 1282,709.9 1282,704.5 1282,700 1284,700 1284.8,706.2 1285,710.6 1285,713.8 1285,719 1285,723.6 1285,730.8 1285.5,735 1285.5,731.3 1285.8,726.3 1286,719.2 1286.5,713.2 1287,710 1288.5,712.5 1288.6,716.7 1288.6,723.1 1288.9,724.6 1290.2,730.1 1290.2,734 1290.2,741.1 1290.2,745 1290.4,750 1290.4,754.2 1291.5,759.5 1291.7,766.4 1291.7,771.3 1291.7,775.8 1291.7,780 1292.4,785.7 1292.4,791.1 1292.4,795.1 1292.4,799.6 1293,805 1293,810.4 1293.6,815.4 1294,819.5 1294,823.8 1295.1,820.2 1295.1,813.7 1295.7,809.1 1295.7,804.2 1295.7,800 1296.2,806.1 1296.4,809.6 1297.2,814.5 1297.2,817.9 1297.2,822.5 1297.8,817.3 1297.8,813.9 1298.5,808.1 1298.5,805.9 1298.5,800 1298.5,793.4 1299.1,788.9 1300.2,786.1 1300.2,780.1 1300.2,773.8 1300.5,777.9 1301.4,783.1 1301.4,789.3 1301.4,794.7 1301.5,800 1301.6,806.6 1301.8,811.3 1302.8,815.3 1302.8,819.3 1302.8,824.6 1303,830 1303.4,834.6 1303.4,839.6 1304.4,842.7 1304.4,846.6 1304.4,851.3 1304.4,857.5 1304.4,854.1 1304.9,850 1305.4,844.1 1305.4,837.4 1305.4,833.7 1305.5,830 1306,823.9 1306.2,820.6 1306.4,816.2 1306.4,812.8 1307,807.5 1308.5,810 1309.3,815.4 1309.3,820.4 1309.8,826.8 1309.8,828.4 1310.3,835.6 1310.3,841.5 1310.3,845 1311.3,851.4 1311.5,855 1312,860.9 1313.5,866.2 1313.5,860.3 1314.4,856.3 1314.4,850.8 1315.1,845.8 1315.3,840.6 1315.7,833.5 1315.7,830 1315.7,825.2 1315.7,821.7 1315.7,814.9 1315.8,810.1 1316.1,806.6 1316.1,799.4 1316.7,793.4 1316.7,788.3 1316.7,786.1 1316.7,780 1316.7,774.8 1316.7,771.1 1317.1,766 1317.1,761.1 1318.2,757 1318.2,751.2 1318.6,755.1 1318.6,760.4 1318.6,766.7 1318.6,770.6 1319.2,776.8 1319.2,780 1319.2,784.2 1319.6,791.6 1319.6,796.2 1320,800.2 1320.5,805 1321.4,798.4 1321.4,793.8 1321.4,789.3 1321.4,785.3 1321.4,781.1 1321.4,773.7 1322,771.2 1322,765 1322,771.6 1322.5,774 1322.5,781.3 1322.9,783.6 1323.1,791 1323.1,796.2 1323.1,800 1324,804.4 1324,811.5 1324,815.7 1324,821.3 1324,824.2 1324,830.2 1324,836.3 1324.8,839.1 1324.8,845.6 1324.8,851 1324.8,855 1325.1,858.9 1325.1,863.4 1325.5,868.6 1325.7,872.1 1325.7,877.4 1325.7,882.5 1326.3,876.5 1326.3,873.9 1326.3,868.8 1326.3,862.5 1326.5,860 1326.5,853.7 1326.5,848.5 1326.5,845.4 1327.1,840.6 1327.1,835.5 1327.1,830 1327.1,834.6 1328.5,840 1328.5,834.2 1329.4,829 1329.4,824.2 1330,820.5 1330,814.6 1330.5,811.6 1330.5,805 1330.5,800.2 1331,794.1 1331,788.6 1331,786 1331,779.8 1331.8,774.9 1331.8,771.2 1331.9,764.6 1331.9,760.5 1331.9,755 1333,753.8 1333.6,760.4 1333.6,763.3 1333.6,768.4 1333.6,774.2 1334.5,780.9 1334.7,784.4 1334.9,788.3 1335,795.3 1335,799.6 1335,805 1335.5,808.2 1335.5,816 1335.5,820.9 1335.5,825.6 1335.5,829.3 1335.5,835.6 1335.5,837.9 1335.9,843.3 1335.9,848.9 1335.9,855.5 1336.1,859.5 1336.1,862.6 1336.1,869 1336.1,873.8 1336.1,868.7 1336.6,863.7 1336.6,858.8 1336.6,855.8 1336.6,849.5 1336.6,843.5 1336.6,839.5 1336.6,836.3 1336.7,828.6 1336.7,823.6 1336.7,820.9 1337,815 1338.1,819.1 1338.3,824.8 1338.3,830.1 1338.5,835 1338.5,838.4 1339.3,845.7 1339.3,851.5 1340.1,854.3 1340.1,860.2 1340.1,865 1340.5,859 1340.5,855 1340.5,850.9 1341.1,844.2 1341.1,839 1341.1,833.9 1341.5,830 1342.2,824.8 1342.2,819.5 1342.5,815.3 1342.5,809.6 1342.5,803.9 1343.2,800.6 1343.2,795 1343.2,800.5 1343.2,804.4 1343.2,811.2 1343.2,814.8 1343.8,821 1343.8,824.3 1343.8,830.7 1343.8,835.8 1343.8,840.9 1343.9,846.1 1344.7,849.6 1344.7,855 1345.5,850 1346.8,843.2 1346.9,838.3 1346.9,834.6 1347,830 1348.2,824.3 1348.2,821 1349,815 1349.4,820.9 1349.6,823.3 1350.4,829 1350.4,833.2 1350.5,840 1350.5,845.2 1351.4,849.8 1351.4,854.8 1351.7,857.5 1351.7,863.6 1352.2,866.8 1352.2,872.5 1353.5,871.2 1353.5,865.5 1353.5,860.4 1354.5,856 1354.5,851.4 1354.5,846.4 1354.5,838.8 1354.5,835.2 1355,830 1355,826.4 1356.4,819.2 1356.4,815.7 1356.4,809.1 1356.5,805 1357.5,801.6 1357.5,794.4 1357.5,788.9 1357.5,786.4 1357.5,781.2 1357.5,773.2 1358.3,769.2 1358.3,763.6 1358.3,758.6 1358.3,755 1358.3,749.1 1358.4,744.8 1358.4,740.1 1359.1,735.8 1359.1,731.5 1359.4,725.2 1359.4,719.4 1359.4,716.4 1359.5,708.6 1359.5,705 1360.6,701.1 1360.6,695.1 1360.6,689.2 1361,683.8 1363,685 1363.7,689.5 1363.7,695.6 1363.7,700.5 1363.7,706.7 1363.7,710.8 1363.7,714.2 1363.7,718.7 1363.9,723.8 1364,730 1364.7,733.5 1364.7,741.3 1364.7,744 1365.3,749.9 1365.8,754.4 1365.8,761.6 1365.8,765 1365.8,771.4 1366.5,773.4 1366.5,780.8 1366.5,785.1 1366.8,789.5 1366.8,791.9 1367.5,796.6 1367.5,803.6 1367.5,807.5 1367.5,803.4 1367.5,798.9 1367.5,794.7 1367.5,789.5 1367.5,784.8 1367.5,779 1367.5,774.1 1367.5,770.6 1368.1,764.3 1368.8,761.4 1368.8,755 1369.6,749.7 1369.6,747.5 1370.1,753 1370.1,755.1 1370.8,761.3 1370.8,767.4 1370.8,769.2 1371.4,774.8 1371.4,779 1371.4,785 1372.1,780.9 1372.1,773.7 1372.4,770.6 1372.4,763.7 1372.4,761.6 1372.4,754.7 1372.5,750 1374.5,755 1374.5,761.8 1374.5,766.6 1376,770.8 1376,775.7 1376,780 1376.2,775 1376.2,770 1377.1,763.7 1377.4,759.7 1377.4,754.1 1377.4,750.5 1377.4,746.4 1377.5,740 1379,736.2 1379.3,741 1380.4,744.8 1380.4,750 1380.4,754 1380.4,758.5 1380.5,765 1381.8,769.1 1382.2,774 1382.2,777.5 1382.6,773.4 1382.6,768.3 1382.6,762.7 1383,758.5 1383,751.9 1383.9,748.6 1383.9,742.5 1385,740 1386.2,743.1 1386.2,747.6 1386.3,754.4 1386.5,759 1386.5,762.5 1386.9,767.7 1388,773 1388,777.8 1388,782.5 1390,781.2 1390.2,777.1 1390.5,769.9 1390.5,765.9 1390.7,761.4 1390.8,755.8 1391.2,751.2 1391.3,745.7 1392.6,739.7 1392.6,737 1392.6,731 1392.6,726.2 1392.9,721 1392.9,715 1393.8,713.6 1393.8,707.1 1393.8,702.5 1394.8,701.2 1394.8,704.8 1395.9,712.8 1395.9,715.9 1396,723 1396,726.7 1396,733.4 1396.2,737.5 1397,733.8 1397,727.8 1397.4,723.3 1397.4,716.2 1397.4,713.3 1397.4,707.5 1397.4,704 1397.4,698.2 1397.9,695.3 1397.9,687.7 1397.9,684.3 1397.9,680 1397.9,676.4 1398.4,668.4 1398.4,664.1 1398.7,658.9 1398.8,654.4 1400.2,654.4 1400.2,660.1 1400.2,664.2 1400.3,669.6 1400.8,672.5 1402,673.8 1402.9,678.1 1402.9,682.2 1402.9,688.5" fill="none" stroke="#113a45" stroke-width="2.8" stroke-linejoin="round" stroke-linecap="butt"/>
<path class="arrow" d="M1387.6,791.4 C1392.6,797.9 1399.5,806 1406.5,806 C1420,806 1427,768 1427.4,729" fill="none" stroke="#c4161c" stroke-width="7.2"/>
<path class="arrow-head" d="M1427.4,692.6 L1442,737 L1427.4,730.6 L1412.6,737 Z" fill="#c4161c"/>
</svg>
</body></html>
